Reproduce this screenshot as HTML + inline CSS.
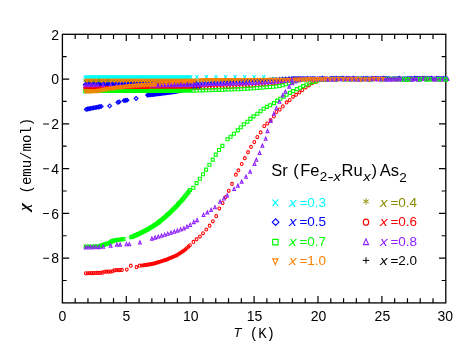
<!DOCTYPE html>
<html><head><meta charset="utf-8"><title>chart</title>
<style>html,body{margin:0;padding:0;background:#fff;}svg{display:block;will-change:transform}</style></head>
<body><svg width="471" height="364" viewBox="0 0 471 364">
<rect width="471" height="364" fill="#fff"/>
<g id="axes"><rect x="62.4" y="34.3" width="383.40000000000003" height="268.59999999999997" fill="none" stroke="#000" stroke-width="1.3"/><path d="M75.18 302.9v-4.6M75.18 34.3v4.6M87.96 302.9v-4.6M87.96 34.3v4.6M100.74 302.9v-4.6M100.74 34.3v4.6M113.52 302.9v-4.6M113.52 34.3v4.6M126.30 302.9v-6.8M126.30 34.3v6.8M139.08 302.9v-4.6M139.08 34.3v4.6M151.86 302.9v-4.6M151.86 34.3v4.6M164.64 302.9v-4.6M164.64 34.3v4.6M177.42 302.9v-4.6M177.42 34.3v4.6M190.20 302.9v-6.8M190.20 34.3v6.8M202.98 302.9v-4.6M202.98 34.3v4.6M215.76 302.9v-4.6M215.76 34.3v4.6M228.54 302.9v-4.6M228.54 34.3v4.6M241.32 302.9v-4.6M241.32 34.3v4.6M254.10 302.9v-6.8M254.10 34.3v6.8M266.88 302.9v-4.6M266.88 34.3v4.6M279.66 302.9v-4.6M279.66 34.3v4.6M292.44 302.9v-4.6M292.44 34.3v4.6M305.22 302.9v-4.6M305.22 34.3v4.6M318.00 302.9v-6.8M318.00 34.3v6.8M330.78 302.9v-4.6M330.78 34.3v4.6M343.56 302.9v-4.6M343.56 34.3v4.6M356.34 302.9v-4.6M356.34 34.3v4.6M369.12 302.9v-4.6M369.12 34.3v4.6M381.90 302.9v-6.8M381.90 34.3v6.8M394.68 302.9v-4.6M394.68 34.3v4.6M407.46 302.9v-4.6M407.46 34.3v4.6M420.24 302.9v-4.6M420.24 34.3v4.6M433.02 302.9v-4.6M433.02 34.3v4.6M62.4 280.52h4.2M445.8 280.52h-4.2M62.4 258.13h6.8M445.8 258.13h-6.8M62.4 235.75h4.2M445.8 235.75h-4.2M62.4 213.37h6.8M445.8 213.37h-6.8M62.4 190.98h4.2M445.8 190.98h-4.2M62.4 168.60h6.8M445.8 168.60h-6.8M62.4 146.22h4.2M445.8 146.22h-4.2M62.4 123.83h6.8M445.8 123.83h-6.8M62.4 101.45h4.2M445.8 101.45h-4.2M62.4 79.07h6.8M445.8 79.07h-6.8M62.4 56.68h4.2M445.8 56.68h-4.2" stroke="#000" stroke-width="1.2" fill="none"/></g>
<g id="data"><path d="M83.65 75.30L86.75 78.90M83.65 78.90L86.75 75.30M85.25 75.30L88.35 78.90M85.25 78.90L88.35 75.30M86.85 75.30L89.95 78.90M86.85 78.90L89.95 75.30M88.45 75.30L91.55 78.90M88.45 78.90L91.55 75.30M90.05 75.30L93.15 78.90M90.05 78.90L93.15 75.30M91.65 75.30L94.75 78.90M91.65 78.90L94.75 75.30M93.25 75.30L96.35 78.90M93.25 78.90L96.35 75.30M94.85 75.30L97.95 78.90M94.85 78.90L97.95 75.30M96.45 75.30L99.55 78.90M96.45 78.90L99.55 75.30M98.05 75.30L101.15 78.90M98.05 78.90L101.15 75.30M99.65 75.30L102.75 78.90M99.65 78.90L102.75 75.30M101.25 75.30L104.35 78.90M101.25 78.90L104.35 75.30M102.85 75.30L105.95 78.90M102.85 78.90L105.95 75.30M104.45 75.30L107.55 78.90M104.45 78.90L107.55 75.30M106.05 75.30L109.15 78.90M106.05 78.90L109.15 75.30M107.65 75.30L110.75 78.90M107.65 78.90L110.75 75.30M109.25 75.30L112.35 78.90M109.25 78.90L112.35 75.30M110.85 75.30L113.95 78.90M110.85 78.90L113.95 75.30M112.45 75.30L115.55 78.90M112.45 78.90L115.55 75.30M114.05 75.30L117.15 78.90M114.05 78.90L117.15 75.30M115.65 75.30L118.75 78.90M115.65 78.90L118.75 75.30M117.25 75.30L120.35 78.90M117.25 78.90L120.35 75.30M118.85 75.30L121.95 78.90M118.85 78.90L121.95 75.30M120.45 75.30L123.55 78.90M120.45 78.90L123.55 75.30M122.05 75.30L125.15 78.90M122.05 78.90L125.15 75.30M123.65 75.30L126.75 78.90M123.65 78.90L126.75 75.30M125.25 75.30L128.35 78.90M125.25 78.90L128.35 75.30M126.85 75.30L129.95 78.90M126.85 78.90L129.95 75.30M128.45 75.30L131.55 78.90M128.45 78.90L131.55 75.30M130.05 75.30L133.15 78.90M130.05 78.90L133.15 75.30M131.65 75.30L134.75 78.90M131.65 78.90L134.75 75.30M133.25 75.30L136.35 78.90M133.25 78.90L136.35 75.30M134.85 75.30L137.95 78.90M134.85 78.90L137.95 75.30M136.45 75.30L139.55 78.90M136.45 78.90L139.55 75.30M138.05 75.30L141.15 78.90M138.05 78.90L141.15 75.30M139.65 75.30L142.75 78.90M139.65 78.90L142.75 75.30M141.25 75.30L144.35 78.90M141.25 78.90L144.35 75.30M142.85 75.30L145.95 78.90M142.85 78.90L145.95 75.30M144.45 75.30L147.55 78.90M144.45 78.90L147.55 75.30M146.05 75.30L149.15 78.90M146.05 78.90L149.15 75.30M147.65 75.30L150.75 78.90M147.65 78.90L150.75 75.30M149.25 75.30L152.35 78.90M149.25 78.90L152.35 75.30M150.85 75.30L153.95 78.90M150.85 78.90L153.95 75.30M152.45 75.30L155.55 78.90M152.45 78.90L155.55 75.30M154.05 75.30L157.15 78.90M154.05 78.90L157.15 75.30M155.65 75.30L158.75 78.90M155.65 78.90L158.75 75.30M157.25 75.30L160.35 78.90M157.25 78.90L160.35 75.30M158.85 75.30L161.95 78.90M158.85 78.90L161.95 75.30M160.45 75.30L163.55 78.90M160.45 78.90L163.55 75.30M162.05 75.30L165.15 78.90M162.05 78.90L165.15 75.30M163.65 75.30L166.75 78.90M163.65 78.90L166.75 75.30M165.25 75.30L168.35 78.90M165.25 78.90L168.35 75.30M166.85 75.30L169.95 78.90M166.85 78.90L169.95 75.30M168.45 75.30L171.55 78.90M168.45 78.90L171.55 75.30M170.05 75.30L173.15 78.90M170.05 78.90L173.15 75.30M171.65 75.30L174.75 78.90M171.65 78.90L174.75 75.30M173.25 75.30L176.35 78.90M173.25 78.90L176.35 75.30M174.85 75.30L177.95 78.90M174.85 78.90L177.95 75.30M176.45 75.30L179.55 78.90M176.45 78.90L179.55 75.30M178.05 75.30L181.15 78.90M178.05 78.90L181.15 75.30M179.65 75.30L182.75 78.90M179.65 78.90L182.75 75.30M181.25 75.30L184.35 78.90M181.25 78.90L184.35 75.30M182.85 75.30L185.95 78.90M182.85 78.90L185.95 75.30M184.45 75.30L187.55 78.90M184.45 78.90L187.55 75.30M186.05 75.30L189.15 78.90M186.05 78.90L189.15 75.30M187.65 75.30L190.75 78.90M187.65 78.90L190.75 75.30M189.25 75.30L192.35 78.90M189.25 78.90L192.35 75.30M195.35 75.20L198.45 78.80M195.35 78.80L198.45 75.20M204.90 75.20L208.00 78.80M204.90 78.80L208.00 75.20M214.45 75.20L217.55 78.80M214.45 78.80L217.55 75.20M224.00 75.20L227.10 78.80M224.00 78.80L227.10 75.20M233.55 75.20L236.65 78.80M233.55 78.80L236.65 75.20M243.10 75.20L246.20 78.80M243.10 78.80L246.20 75.20M252.65 75.20L255.75 78.80M252.65 78.80L255.75 75.20M262.20 75.20L265.30 78.80M262.20 78.80L265.30 75.20M271.75 76.80L274.85 80.40M271.75 80.40L274.85 76.80M281.30 76.80L284.40 80.40M281.30 80.40L284.40 76.80M290.85 76.80L293.95 80.40M290.85 80.40L293.95 76.80M300.40 76.80L303.50 80.40M300.40 80.40L303.50 76.80M309.95 76.64L313.05 80.24M309.95 80.24L313.05 76.64M319.50 76.49L322.60 80.09M319.50 80.09L322.60 76.49M329.05 76.94L332.15 80.54M329.05 80.54L332.15 76.94M338.60 76.42L341.70 80.02M338.60 80.02L341.70 76.42M348.15 76.83L351.25 80.43M348.15 80.43L351.25 76.83M357.70 76.68L360.80 80.28M357.70 80.28L360.80 76.68M367.25 76.40L370.35 80.00M367.25 80.00L370.35 76.40M376.80 76.81L379.90 80.41M376.80 80.41L379.90 76.81M386.35 76.38L389.45 79.98M386.35 79.98L389.45 76.38M395.90 76.74L399.00 80.34M395.90 80.34L399.00 76.74M405.45 76.41L408.55 80.01M405.45 80.01L408.55 76.41M415.00 76.43L418.10 80.03M415.00 80.03L418.10 76.43M424.55 76.73L427.65 80.33M424.55 80.33L427.65 76.73M434.10 77.09L437.20 80.69M434.10 80.69L437.20 77.09M443.65 76.46L446.75 80.06M443.65 80.06L446.75 76.46" fill="none" stroke="#00ffff" stroke-width="1.08"/>
<path d="M85.20 78.70L85.20 82.50M83.55 79.65L86.85 81.55M83.55 81.55L86.85 79.65M86.30 78.70L86.30 82.50M84.65 79.65L87.95 81.55M84.65 81.55L87.95 79.65M87.40 78.70L87.40 82.50M85.75 79.65L89.05 81.55M85.75 81.55L89.05 79.65M88.50 78.70L88.50 82.50M86.85 79.65L90.15 81.55M86.85 81.55L90.15 79.65M89.60 78.70L89.60 82.50M87.95 79.65L91.25 81.55M87.95 81.55L91.25 79.65M90.70 78.70L90.70 82.50M89.05 79.65L92.35 81.55M89.05 81.55L92.35 79.65M91.80 78.70L91.80 82.50M90.15 79.65L93.45 81.55M90.15 81.55L93.45 79.65M92.90 78.70L92.90 82.50M91.25 79.65L94.55 81.55M91.25 81.55L94.55 79.65M94.00 78.70L94.00 82.50M92.35 79.65L95.65 81.55M92.35 81.55L95.65 79.65M95.10 78.70L95.10 82.50M93.45 79.65L96.75 81.55M93.45 81.55L96.75 79.65M96.20 78.70L96.20 82.50M94.55 79.65L97.85 81.55M94.55 81.55L97.85 79.65M97.30 78.70L97.30 82.50M95.65 79.65L98.95 81.55M95.65 81.55L98.95 79.65M98.40 78.70L98.40 82.50M96.75 79.65L100.05 81.55M96.75 81.55L100.05 79.65M99.50 78.70L99.50 82.50M97.85 79.65L101.15 81.55M97.85 81.55L101.15 79.65M100.60 78.70L100.60 82.50M98.95 79.65L102.25 81.55M98.95 81.55L102.25 79.65M101.70 78.70L101.70 82.50M100.05 79.65L103.35 81.55M100.05 81.55L103.35 79.65M102.80 78.70L102.80 82.50M101.15 79.65L104.45 81.55M101.15 81.55L104.45 79.65M103.90 78.70L103.90 82.50M102.25 79.65L105.55 81.55M102.25 81.55L105.55 79.65M105.00 78.70L105.00 82.50M103.35 79.65L106.65 81.55M103.35 81.55L106.65 79.65M106.10 78.70L106.10 82.50M104.45 79.65L107.75 81.55M104.45 81.55L107.75 79.65M107.20 78.70L107.20 82.50M105.55 79.65L108.85 81.55M105.55 81.55L108.85 79.65M108.30 78.70L108.30 82.50M106.65 79.65L109.95 81.55M106.65 81.55L109.95 79.65M109.40 78.70L109.40 82.50M107.75 79.65L111.05 81.55M107.75 81.55L111.05 79.65M110.50 78.70L110.50 82.50M108.85 79.65L112.15 81.55M108.85 81.55L112.15 79.65M111.60 78.70L111.60 82.50M109.95 79.65L113.25 81.55M109.95 81.55L113.25 79.65M112.70 78.70L112.70 82.50M111.05 79.65L114.35 81.55M111.05 81.55L114.35 79.65M113.80 78.70L113.80 82.50M112.15 79.65L115.45 81.55M112.15 81.55L115.45 79.65M114.90 78.70L114.90 82.50M113.25 79.65L116.55 81.55M113.25 81.55L116.55 79.65M116.00 78.70L116.00 82.50M114.35 79.65L117.65 81.55M114.35 81.55L117.65 79.65M117.10 78.70L117.10 82.50M115.45 79.65L118.75 81.55M115.45 81.55L118.75 79.65M118.20 78.70L118.20 82.50M116.55 79.65L119.85 81.55M116.55 81.55L119.85 79.65M119.30 78.70L119.30 82.50M117.65 79.65L120.95 81.55M117.65 81.55L120.95 79.65M120.40 78.70L120.40 82.50M118.75 79.65L122.05 81.55M118.75 81.55L122.05 79.65M121.50 78.70L121.50 82.50M119.85 79.65L123.15 81.55M119.85 81.55L123.15 79.65M122.60 78.70L122.60 82.50M120.95 79.65L124.25 81.55M120.95 81.55L124.25 79.65M123.70 78.70L123.70 82.50M122.05 79.65L125.35 81.55M122.05 81.55L125.35 79.65M124.80 78.70L124.80 82.50M123.15 79.65L126.45 81.55M123.15 81.55L126.45 79.65M125.90 78.70L125.90 82.50M124.25 79.65L127.55 81.55M124.25 81.55L127.55 79.65M127.00 78.70L127.00 82.50M125.35 79.65L128.65 81.55M125.35 81.55L128.65 79.65M128.10 78.70L128.10 82.50M126.45 79.65L129.75 81.55M126.45 81.55L129.75 79.65M129.20 78.70L129.20 82.50M127.55 79.65L130.85 81.55M127.55 81.55L130.85 79.65M130.30 78.70L130.30 82.50M128.65 79.65L131.95 81.55M128.65 81.55L131.95 79.65M131.40 78.70L131.40 82.50M129.75 79.65L133.05 81.55M129.75 81.55L133.05 79.65M132.50 78.70L132.50 82.50M130.85 79.65L134.15 81.55M130.85 81.55L134.15 79.65M133.60 78.70L133.60 82.50M131.95 79.65L135.25 81.55M131.95 81.55L135.25 79.65M134.70 78.70L134.70 82.50M133.05 79.65L136.35 81.55M133.05 81.55L136.35 79.65M135.80 78.70L135.80 82.50M134.15 79.65L137.45 81.55M134.15 81.55L137.45 79.65M136.90 78.70L136.90 82.50M135.25 79.65L138.55 81.55M135.25 81.55L138.55 79.65M138.00 78.70L138.00 82.50M136.35 79.65L139.65 81.55M136.35 81.55L139.65 79.65M139.10 78.70L139.10 82.50M137.45 79.65L140.75 81.55M137.45 81.55L140.75 79.65M140.20 78.70L140.20 82.50M138.55 79.65L141.85 81.55M138.55 81.55L141.85 79.65M141.30 78.70L141.30 82.50M139.65 79.65L142.95 81.55M139.65 81.55L142.95 79.65M142.40 78.70L142.40 82.50M140.75 79.65L144.05 81.55M140.75 81.55L144.05 79.65M143.50 78.70L143.50 82.50M141.85 79.65L145.15 81.55M141.85 81.55L145.15 79.65M144.60 78.70L144.60 82.50M142.95 79.65L146.25 81.55M142.95 81.55L146.25 79.65M145.70 78.70L145.70 82.50M144.05 79.65L147.35 81.55M144.05 81.55L147.35 79.65M146.80 78.70L146.80 82.50M145.15 79.65L148.45 81.55M145.15 81.55L148.45 79.65M147.90 78.70L147.90 82.50M146.25 79.65L149.55 81.55M146.25 81.55L149.55 79.65M149.00 78.70L149.00 82.50M147.35 79.65L150.65 81.55M147.35 81.55L150.65 79.65M150.10 78.70L150.10 82.50M148.45 79.65L151.75 81.55M148.45 81.55L151.75 79.65M151.20 78.70L151.20 82.50M149.55 79.65L152.85 81.55M149.55 81.55L152.85 79.65M152.30 78.70L152.30 82.50M150.65 79.65L153.95 81.55M150.65 81.55L153.95 79.65M153.40 78.70L153.40 82.50M151.75 79.65L155.05 81.55M151.75 81.55L155.05 79.65M154.50 78.70L154.50 82.50M152.85 79.65L156.15 81.55M152.85 81.55L156.15 79.65M155.60 78.70L155.60 82.50M153.95 79.65L157.25 81.55M153.95 81.55L157.25 79.65M156.70 78.70L156.70 82.50M155.05 79.65L158.35 81.55M155.05 81.55L158.35 79.65M157.80 78.70L157.80 82.50M156.15 79.65L159.45 81.55M156.15 81.55L159.45 79.65M158.90 78.70L158.90 82.50M157.25 79.65L160.55 81.55M157.25 81.55L160.55 79.65M160.00 78.70L160.00 82.50M158.35 79.65L161.65 81.55M158.35 81.55L161.65 79.65M161.10 78.70L161.10 82.50M159.45 79.65L162.75 81.55M159.45 81.55L162.75 79.65M162.20 78.70L162.20 82.50M160.55 79.65L163.85 81.55M160.55 81.55L163.85 79.65M163.30 78.70L163.30 82.50M161.65 79.65L164.95 81.55M161.65 81.55L164.95 79.65M164.40 78.70L164.40 82.50M162.75 79.65L166.05 81.55M162.75 81.55L166.05 79.65M165.50 78.70L165.50 82.50M163.85 79.65L167.15 81.55M163.85 81.55L167.15 79.65M166.60 78.70L166.60 82.50M164.95 79.65L168.25 81.55M164.95 81.55L168.25 79.65M167.70 78.70L167.70 82.50M166.05 79.65L169.35 81.55M166.05 81.55L169.35 79.65M168.80 78.70L168.80 82.50M167.15 79.65L170.45 81.55M167.15 81.55L170.45 79.65M169.90 78.70L169.90 82.50M168.25 79.65L171.55 81.55M168.25 81.55L171.55 79.65M171.00 78.70L171.00 82.50M169.35 79.65L172.65 81.55M169.35 81.55L172.65 79.65M172.10 78.70L172.10 82.50M170.45 79.65L173.75 81.55M170.45 81.55L173.75 79.65M173.20 78.70L173.20 82.50M171.55 79.65L174.85 81.55M171.55 81.55L174.85 79.65M174.30 78.70L174.30 82.50M172.65 79.65L175.95 81.55M172.65 81.55L175.95 79.65M175.40 78.70L175.40 82.50M173.75 79.65L177.05 81.55M173.75 81.55L177.05 79.65M176.50 78.70L176.50 82.50M174.85 79.65L178.15 81.55M174.85 81.55L178.15 79.65M177.60 78.70L177.60 82.50M175.95 79.65L179.25 81.55M175.95 81.55L179.25 79.65M178.70 78.70L178.70 82.50M177.05 79.65L180.35 81.55M177.05 81.55L180.35 79.65M179.80 78.70L179.80 82.50M178.15 79.65L181.45 81.55M178.15 81.55L181.45 79.65M180.90 78.70L180.90 82.50M179.25 79.65L182.55 81.55M179.25 81.55L182.55 79.65M182.00 78.70L182.00 82.50M180.35 79.65L183.65 81.55M180.35 81.55L183.65 79.65M183.10 78.70L183.10 82.50M181.45 79.65L184.75 81.55M181.45 81.55L184.75 79.65M184.20 78.70L184.20 82.50M182.55 79.65L185.85 81.55M182.55 81.55L185.85 79.65M185.30 78.70L185.30 82.50M183.65 79.65L186.95 81.55M183.65 81.55L186.95 79.65M186.40 78.70L186.40 82.50M184.75 79.65L188.05 81.55M184.75 81.55L188.05 79.65M187.50 78.70L187.50 82.50M185.85 79.65L189.15 81.55M185.85 81.55L189.15 79.65M188.60 78.70L188.60 82.50M186.95 79.65L190.25 81.55M186.95 81.55L190.25 79.65M189.70 78.70L189.70 82.50M188.05 79.65L191.35 81.55M188.05 81.55L191.35 79.65M190.80 78.70L190.80 82.50M189.15 79.65L192.45 81.55M189.15 81.55L192.45 79.65M191.90 78.70L191.90 82.50M190.25 79.65L193.55 81.55M190.25 81.55L193.55 79.65M193.00 78.70L193.00 82.50M191.35 79.65L194.65 81.55M191.35 81.55L194.65 79.65M194.10 78.70L194.10 82.50M192.45 79.65L195.75 81.55M192.45 81.55L195.75 79.65M195.20 78.70L195.20 82.50M193.55 79.65L196.85 81.55M193.55 81.55L196.85 79.65M196.30 78.70L196.30 82.50M194.65 79.65L197.95 81.55M194.65 81.55L197.95 79.65M200.00 78.50L200.00 82.30M198.35 79.45L201.65 81.35M198.35 81.35L201.65 79.45M203.19 78.46L203.19 82.26M201.54 79.41L204.84 81.31M201.54 81.31L204.84 79.41M206.38 78.42L206.38 82.22M204.73 79.37L208.03 81.27M204.73 81.27L208.03 79.37M209.57 78.39L209.57 82.19M207.92 79.34L211.22 81.24M207.92 81.24L211.22 79.34M212.76 78.35L212.76 82.15M211.11 79.30L214.41 81.20M211.11 81.20L214.41 79.30M215.95 78.31L215.95 82.11M214.30 79.26L217.60 81.16M214.30 81.16L217.60 79.26M219.14 78.27L219.14 82.07M217.49 79.22L220.79 81.12M217.49 81.12L220.79 79.22M222.33 78.23L222.33 82.03M220.68 79.18L223.98 81.08M220.68 81.08L223.98 79.18M225.52 78.19L225.52 81.99M223.87 79.14L227.17 81.04M223.87 81.04L227.17 79.14M228.71 78.16L228.71 81.96M227.06 79.11L230.36 81.01M227.06 81.01L230.36 79.11M231.90 78.12L231.90 81.92M230.25 79.07L233.55 80.97M230.25 80.97L233.55 79.07M235.09 78.08L235.09 81.88M233.44 79.03L236.74 80.93M233.44 80.93L236.74 79.03M238.28 78.04L238.28 81.84M236.63 78.99L239.93 80.89M236.63 80.89L239.93 78.99M241.47 78.00L241.47 81.80M239.82 78.95L243.12 80.85M239.82 80.85L243.12 78.95M244.66 77.96L244.66 81.76M243.01 78.91L246.31 80.81M243.01 80.81L246.31 78.91M247.85 77.93L247.85 81.73M246.20 78.88L249.50 80.78M246.20 80.78L249.50 78.88M251.04 77.89L251.04 81.69M249.39 78.84L252.69 80.74M249.39 80.74L252.69 78.84M254.23 77.85L254.23 81.65M252.58 78.80L255.88 80.70M252.58 80.70L255.88 78.80M257.42 77.81L257.42 81.61M255.77 78.76L259.07 80.66M255.77 80.66L259.07 78.76M260.61 77.77L260.61 81.57M258.96 78.72L262.26 80.62M258.96 80.62L262.26 78.72M263.80 77.73L263.80 81.53M262.15 78.68L265.45 80.58M262.15 80.58L265.45 78.68M266.99 77.70L266.99 81.50M265.34 78.65L268.64 80.55M265.34 80.55L268.64 78.65M270.18 77.66L270.18 81.46M268.53 78.61L271.83 80.51M268.53 80.51L271.83 78.61M273.37 77.62L273.37 81.42M271.72 78.57L275.02 80.47M271.72 80.47L275.02 78.57M276.56 77.58L276.56 81.38M274.91 78.53L278.21 80.43M274.91 80.43L278.21 78.53M279.75 77.54L279.75 81.34M278.10 78.49L281.40 80.39M278.10 80.39L281.40 78.49M282.94 77.50L282.94 81.30M281.29 78.45L284.59 80.35M281.29 80.35L284.59 78.45M286.13 77.47L286.13 81.27M284.48 78.42L287.78 80.32M284.48 80.32L287.78 78.42M289.32 77.43L289.32 81.23M287.67 78.38L290.97 80.28M287.67 80.28L290.97 78.38M292.51 77.39L292.51 81.19M290.86 78.34L294.16 80.24M290.86 80.24L294.16 78.34M295.70 77.35L295.70 81.15M294.05 78.30L297.35 80.20M294.05 80.20L297.35 78.30M298.89 77.31L298.89 81.11M297.24 78.26L300.54 80.16M297.24 80.16L300.54 78.26M302.08 77.30L302.08 81.10M300.43 78.25L303.73 80.15M300.43 80.15L303.73 78.25M305.27 77.04L305.27 80.84M303.62 77.99L306.92 79.89M303.62 79.89L306.92 77.99M308.46 77.40L308.46 81.20M306.81 78.35L310.11 80.25M306.81 80.25L310.11 78.35M311.65 77.69L311.65 81.49M310.00 78.64L313.30 80.54M310.00 80.54L313.30 78.64M314.84 77.35L314.84 81.15M313.19 78.30L316.49 80.20M313.19 80.20L316.49 78.30M318.03 77.18L318.03 80.98M316.38 78.13L319.68 80.03M316.38 80.03L319.68 78.13M321.22 77.70L321.22 81.50M319.57 78.65L322.87 80.55M319.57 80.55L322.87 78.65M324.41 76.86L324.41 80.66M322.76 77.81L326.06 79.71M322.76 79.71L326.06 77.81M327.60 77.58L327.60 81.38M325.95 78.53L329.25 80.43M325.95 80.43L329.25 78.53M330.79 77.07L330.79 80.87M329.14 78.02L332.44 79.92M329.14 79.92L332.44 78.02M333.98 76.93L333.98 80.73M332.33 77.88L335.63 79.78M332.33 79.78L335.63 77.88M337.17 76.91L337.17 80.71M335.52 77.86L338.82 79.76M335.52 79.76L338.82 77.86M340.36 77.07L340.36 80.87M338.71 78.02L342.01 79.92M338.71 79.92L342.01 78.02M343.55 77.52L343.55 81.32M341.90 78.47L345.20 80.37M341.90 80.37L345.20 78.47M346.74 76.95L346.74 80.75M345.09 77.90L348.39 79.80M345.09 79.80L348.39 77.90M349.93 77.31L349.93 81.11M348.28 78.26L351.58 80.16M348.28 80.16L351.58 78.26M353.12 77.35L353.12 81.15M351.47 78.30L354.77 80.20M351.47 80.20L354.77 78.30M356.31 77.11L356.31 80.91M354.66 78.06L357.96 79.96M354.66 79.96L357.96 78.06M359.50 77.26L359.50 81.06M357.85 78.21L361.15 80.11M357.85 80.11L361.15 78.21M362.69 76.82L362.69 80.62M361.04 77.77L364.34 79.67M361.04 79.67L364.34 77.77M365.88 76.81L365.88 80.61M364.23 77.76L367.53 79.66M364.23 79.66L367.53 77.76M369.07 76.94L369.07 80.74M367.42 77.89L370.72 79.79M367.42 79.79L370.72 77.89M372.26 77.36L372.26 81.16M370.61 78.31L373.91 80.21M370.61 80.21L373.91 78.31M375.45 77.13L375.45 80.93M373.80 78.08L377.10 79.98M373.80 79.98L377.10 78.08M378.64 77.03L378.64 80.83M376.99 77.98L380.29 79.88M376.99 79.88L380.29 77.98M381.83 77.26L381.83 81.06M380.18 78.21L383.48 80.11M380.18 80.11L383.48 78.21M385.02 77.14L385.02 80.94M383.37 78.09L386.67 79.99M383.37 79.99L386.67 78.09M388.21 77.00L388.21 80.80M386.56 77.95L389.86 79.85M386.56 79.85L389.86 77.95M391.40 77.44L391.40 81.24M389.75 78.39L393.05 80.29M389.75 80.29L393.05 78.39M394.59 77.35L394.59 81.15M392.94 78.30L396.24 80.20M392.94 80.20L396.24 78.30M397.78 76.94L397.78 80.74M396.13 77.89L399.43 79.79M396.13 79.79L399.43 77.89M400.97 77.23L400.97 81.03M399.32 78.18L402.62 80.08M399.32 80.08L402.62 78.18M404.16 77.18L404.16 80.98M402.51 78.13L405.81 80.03M402.51 80.03L405.81 78.13M407.35 77.49L407.35 81.29M405.70 78.44L409.00 80.34M405.70 80.34L409.00 78.44M410.54 77.36L410.54 81.16M408.89 78.31L412.19 80.21M408.89 80.21L412.19 78.31M413.73 76.95L413.73 80.75M412.08 77.90L415.38 79.80M412.08 79.80L415.38 77.90M416.92 77.57L416.92 81.37M415.27 78.52L418.57 80.42M415.27 80.42L418.57 78.52M420.11 76.79L420.11 80.59M418.46 77.74L421.76 79.64M418.46 79.64L421.76 77.74M423.30 77.06L423.30 80.86M421.65 78.01L424.95 79.91M421.65 79.91L424.95 78.01M426.49 77.36L426.49 81.16M424.84 78.31L428.14 80.21M424.84 80.21L428.14 78.31M429.68 76.81L429.68 80.61M428.03 77.76L431.33 79.66M428.03 79.66L431.33 77.76M432.87 77.11L432.87 80.91M431.22 78.06L434.52 79.96M431.22 79.96L434.52 78.06M436.06 76.70L436.06 80.50M434.41 77.65L437.71 79.55M434.41 79.55L437.71 77.65M439.25 77.26L439.25 81.06M437.60 78.21L440.90 80.11M437.60 80.11L440.90 78.21M442.44 77.34L442.44 81.14M440.79 78.29L444.09 80.19M440.79 80.19L444.09 78.29M445.63 77.17L445.63 80.97M443.98 78.12L447.28 80.02M443.98 80.02L447.28 78.12" fill="none" stroke="#8b8b00" stroke-width="1.08"/>
<path d="M83.30 84.60L85.20 82.70L87.10 84.60L85.20 86.50ZM84.20 84.60L86.10 82.70L88.00 84.60L86.10 86.50ZM85.10 84.60L87.00 82.70L88.90 84.60L87.00 86.50ZM86.00 84.60L87.90 82.70L89.80 84.60L87.90 86.50ZM86.90 84.59L88.80 82.69L90.70 84.59L88.80 86.49ZM87.80 84.59L89.70 82.69L91.60 84.59L89.70 86.49ZM88.70 84.59L90.60 82.69L92.50 84.59L90.60 86.49ZM89.60 84.59L91.50 82.69L93.40 84.59L91.50 86.49ZM90.50 84.59L92.40 82.69L94.30 84.59L92.40 86.49ZM91.40 84.59L93.30 82.69L95.20 84.59L93.30 86.49ZM92.30 84.59L94.20 82.69L96.10 84.59L94.20 86.49ZM93.20 84.58L95.10 82.68L97.00 84.58L95.10 86.48ZM94.10 84.58L96.00 82.68L97.90 84.58L96.00 86.48ZM95.00 84.58L96.90 82.68L98.80 84.58L96.90 86.48ZM95.90 84.58L97.80 82.68L99.70 84.58L97.80 86.48ZM96.80 84.58L98.70 82.68L100.60 84.58L98.70 86.48ZM97.70 84.58L99.60 82.68L101.50 84.58L99.60 86.48ZM98.60 84.58L100.50 82.68L102.40 84.58L100.50 86.48ZM99.50 84.57L101.40 82.67L103.30 84.57L101.40 86.47ZM100.40 84.57L102.30 82.67L104.20 84.57L102.30 86.47ZM101.30 84.57L103.20 82.67L105.10 84.57L103.20 86.47ZM102.20 84.57L104.10 82.67L106.00 84.57L104.10 86.47ZM103.10 84.57L105.00 82.67L106.90 84.57L105.00 86.47ZM104.00 84.57L105.90 82.67L107.80 84.57L105.90 86.47ZM104.90 84.57L106.80 82.67L108.70 84.57L106.80 86.47ZM105.80 84.57L107.70 82.67L109.60 84.57L107.70 86.47ZM106.70 84.56L108.60 82.66L110.50 84.56L108.60 86.46ZM107.60 84.56L109.50 82.66L111.40 84.56L109.50 86.46ZM108.50 84.56L110.40 82.66L112.30 84.56L110.40 86.46ZM109.40 84.56L111.30 82.66L113.20 84.56L111.30 86.46ZM110.30 84.56L112.20 82.66L114.10 84.56L112.20 86.46ZM111.20 84.56L113.10 82.66L115.00 84.56L113.10 86.46ZM112.10 84.56L114.00 82.66L115.90 84.56L114.00 86.46ZM113.00 84.55L114.90 82.65L116.80 84.55L114.90 86.45ZM113.90 84.55L115.80 82.65L117.70 84.55L115.80 86.45ZM114.80 84.55L116.70 82.65L118.60 84.55L116.70 86.45ZM115.70 84.55L117.60 82.65L119.50 84.55L117.60 86.45ZM116.60 84.55L118.50 82.65L120.40 84.55L118.50 86.45ZM117.50 84.55L119.40 82.65L121.30 84.55L119.40 86.45ZM118.40 84.55L120.30 82.65L122.20 84.55L120.30 86.45ZM119.30 84.54L121.20 82.64L123.10 84.54L121.20 86.44ZM120.20 84.54L122.10 82.64L124.00 84.54L122.10 86.44ZM121.10 84.54L123.00 82.64L124.90 84.54L123.00 86.44ZM122.00 84.54L123.90 82.64L125.80 84.54L123.90 86.44ZM122.90 84.54L124.80 82.64L126.70 84.54L124.80 86.44ZM123.80 84.54L125.70 82.64L127.60 84.54L125.70 86.44ZM124.70 84.54L126.60 82.64L128.50 84.54L126.60 86.44ZM125.60 84.53L127.50 82.63L129.40 84.53L127.50 86.43ZM126.50 84.53L128.40 82.63L130.30 84.53L128.40 86.43ZM127.40 84.53L129.30 82.63L131.20 84.53L129.30 86.43ZM128.30 84.53L130.20 82.63L132.10 84.53L130.20 86.43ZM129.20 84.53L131.10 82.63L133.00 84.53L131.10 86.43ZM130.10 84.53L132.00 82.63L133.90 84.53L132.00 86.43ZM131.00 84.53L132.90 82.63L134.80 84.53L132.90 86.43ZM131.90 84.52L133.80 82.62L135.70 84.52L133.80 86.42ZM132.80 84.52L134.70 82.62L136.60 84.52L134.70 86.42ZM133.70 84.52L135.60 82.62L137.50 84.52L135.60 86.42ZM134.60 84.52L136.50 82.62L138.40 84.52L136.50 86.42ZM135.50 84.52L137.40 82.62L139.30 84.52L137.40 86.42ZM136.40 84.52L138.30 82.62L140.20 84.52L138.30 86.42ZM137.30 84.52L139.20 82.62L141.10 84.52L139.20 86.42ZM138.20 84.52L140.10 82.62L142.00 84.52L140.10 86.42ZM139.10 84.51L141.00 82.61L142.90 84.51L141.00 86.41ZM140.00 84.51L141.90 82.61L143.80 84.51L141.90 86.41ZM140.90 84.51L142.80 82.61L144.70 84.51L142.80 86.41ZM141.80 84.51L143.70 82.61L145.60 84.51L143.70 86.41ZM142.70 84.51L144.60 82.61L146.50 84.51L144.60 86.41ZM143.60 84.51L145.50 82.61L147.40 84.51L145.50 86.41ZM144.50 84.51L146.40 82.61L148.30 84.51L146.40 86.41ZM145.40 84.50L147.30 82.60L149.20 84.50L147.30 86.40ZM146.30 84.50L148.20 82.60L150.10 84.50L148.20 86.40ZM147.20 84.50L149.10 82.60L151.00 84.50L149.10 86.40ZM148.10 84.50L150.00 82.60L151.90 84.50L150.00 86.40ZM149.00 84.49L150.90 82.59L152.80 84.49L150.90 86.39ZM149.90 84.48L151.80 82.58L153.70 84.48L151.80 86.38ZM150.80 84.47L152.70 82.57L154.60 84.47L152.70 86.37ZM151.70 84.46L153.60 82.56L155.50 84.46L153.60 86.36ZM152.60 84.45L154.50 82.55L156.40 84.45L154.50 86.36ZM153.50 84.45L155.40 82.55L157.30 84.45L155.40 86.35ZM154.40 84.44L156.30 82.54L158.20 84.44L156.30 86.34ZM155.30 84.43L157.20 82.53L159.10 84.43L157.20 86.33ZM156.20 84.42L158.10 82.52L160.00 84.42L158.10 86.32ZM157.10 84.41L159.00 82.51L160.90 84.41L159.00 86.31ZM158.00 84.40L159.90 82.50L161.80 84.40L159.90 86.30ZM158.90 84.39L160.80 82.49L162.70 84.39L160.80 86.29ZM159.80 84.38L161.70 82.48L163.60 84.38L161.70 86.28ZM160.70 84.37L162.60 82.47L164.50 84.37L162.60 86.27ZM161.60 84.36L163.50 82.46L165.40 84.36L163.50 86.27ZM162.50 84.36L164.40 82.46L166.30 84.36L164.40 86.26ZM163.40 84.35L165.30 82.45L167.20 84.35L165.30 86.25ZM164.30 84.34L166.20 82.44L168.10 84.34L166.20 86.24ZM165.20 84.33L167.10 82.43L169.00 84.33L167.10 86.23ZM166.10 84.32L168.00 82.42L169.90 84.32L168.00 86.22ZM167.00 84.31L168.90 82.41L170.80 84.31L168.90 86.21ZM167.90 84.30L169.80 82.40L171.70 84.30L169.80 86.20ZM168.80 84.29L170.70 82.39L172.60 84.29L170.70 86.19ZM169.70 84.28L171.60 82.38L173.50 84.28L171.60 86.18ZM170.60 84.27L172.50 82.37L174.40 84.27L172.50 86.17ZM171.50 84.27L173.40 82.37L175.30 84.27L173.40 86.17ZM172.40 84.26L174.30 82.36L176.20 84.26L174.30 86.16ZM173.30 84.25L175.20 82.35L177.10 84.25L175.20 86.15ZM174.20 84.24L176.10 82.34L178.00 84.24L176.10 86.14ZM175.10 84.23L177.00 82.33L178.90 84.23L177.00 86.13ZM176.00 84.22L177.90 82.32L179.80 84.22L177.90 86.12ZM176.90 84.21L178.80 82.31L180.70 84.21L178.80 86.11ZM177.80 84.20L179.70 82.30L181.60 84.20L179.70 86.10ZM178.70 84.19L180.60 82.29L182.50 84.19L180.60 86.09ZM179.60 84.18L181.50 82.28L183.40 84.18L181.50 86.08ZM180.50 84.18L182.40 82.28L184.30 84.18L182.40 86.08ZM181.40 84.17L183.30 82.27L185.20 84.17L183.30 86.07ZM182.30 84.16L184.20 82.26L186.10 84.16L184.20 86.06ZM183.20 84.15L185.10 82.25L187.00 84.15L185.10 86.05ZM184.10 84.14L186.00 82.24L187.90 84.14L186.00 86.04ZM185.00 84.13L186.90 82.23L188.80 84.13L186.90 86.03ZM185.90 84.12L187.80 82.22L189.70 84.12L187.80 86.02ZM186.80 84.11L188.70 82.21L190.60 84.11L188.70 86.01ZM187.70 84.10L189.60 82.20L191.50 84.10L189.60 86.00ZM191.40 84.00L193.30 82.10L195.20 84.00L193.30 85.90ZM194.59 83.90L196.49 82.00L198.39 83.90L196.49 85.80ZM197.78 83.81L199.68 81.91L201.58 83.81L199.68 85.71ZM200.97 83.65L202.87 81.75L204.77 83.65L202.87 85.55ZM204.16 83.48L206.06 81.58L207.96 83.48L206.06 85.38ZM207.35 83.31L209.25 81.41L211.15 83.31L209.25 85.21ZM210.54 83.14L212.44 81.24L214.34 83.14L212.44 85.04ZM213.73 82.97L215.63 81.07L217.53 82.97L215.63 84.87ZM216.92 82.85L218.82 80.95L220.72 82.85L218.82 84.75ZM220.11 82.72L222.01 80.82L223.91 82.72L222.01 84.62ZM223.30 82.59L225.20 80.69L227.10 82.59L225.20 84.49ZM226.49 82.46L228.39 80.56L230.29 82.46L228.39 84.36ZM229.68 82.34L231.58 80.44L233.48 82.34L231.58 84.24ZM232.87 82.21L234.77 80.31L236.67 82.21L234.77 84.11ZM236.06 82.08L237.96 80.18L239.86 82.08L237.96 83.98ZM239.25 81.93L241.15 80.03L243.05 81.93L241.15 83.83ZM242.44 81.73L244.34 79.83L246.24 81.73L244.34 83.63ZM245.63 81.52L247.53 79.62L249.43 81.52L247.53 83.42ZM248.82 81.32L250.72 79.42L252.62 81.32L250.72 83.22ZM252.01 81.12L253.91 79.22L255.81 81.12L253.91 83.02ZM255.20 80.92L257.10 79.02L259.00 80.92L257.10 82.82ZM258.39 80.72L260.29 78.82L262.19 80.72L260.29 82.62ZM261.58 80.52L263.48 78.62L265.38 80.52L263.48 82.42ZM264.77 80.32L266.67 78.42L268.57 80.32L266.67 82.22ZM267.96 80.11L269.86 78.21L271.76 80.11L269.86 82.01ZM271.15 79.91L273.05 78.01L274.95 79.91L273.05 81.81ZM274.34 79.71L276.24 77.81L278.14 79.71L276.24 81.61ZM277.53 79.48L279.43 77.58L281.33 79.48L279.43 81.38ZM280.72 79.22L282.62 77.31L284.52 79.22L282.62 81.12ZM283.91 78.95L285.81 77.05L287.71 78.95L285.81 80.85ZM287.10 78.68L289.00 76.78L290.90 78.68L289.00 80.58ZM290.10 78.60L292.00 76.70L293.90 78.60L292.00 80.50ZM291.80 78.60L293.70 76.70L295.60 78.60L293.70 80.50ZM293.50 78.60L295.40 76.70L297.30 78.60L295.40 80.50ZM295.20 78.60L297.10 76.70L299.00 78.60L297.10 80.50ZM296.90 78.60L298.80 76.70L300.70 78.60L298.80 80.50ZM298.60 78.61L300.50 76.71L302.40 78.61L300.50 80.51ZM300.30 78.61L302.20 76.71L304.10 78.61L302.20 80.51ZM302.00 78.61L303.90 76.71L305.80 78.61L303.90 80.51ZM303.70 78.95L305.60 77.05L307.50 78.95L305.60 80.85ZM305.40 78.44L307.30 76.54L309.20 78.44L307.30 80.34ZM307.10 78.79L309.00 76.89L310.90 78.79L309.00 80.69ZM308.80 78.70L310.70 76.80L312.60 78.70L310.70 80.60ZM310.50 78.69L312.40 76.79L314.30 78.69L312.40 80.59ZM312.20 78.57L314.10 76.67L316.00 78.57L314.10 80.47ZM313.90 78.92L315.80 77.02L317.70 78.92L315.80 80.82ZM315.60 79.02L317.50 77.12L319.40 79.02L317.50 80.92ZM317.30 78.59L319.20 76.69L321.10 78.59L319.20 80.49ZM319.00 78.77L320.90 76.87L322.80 78.77L320.90 80.67ZM320.70 78.22L322.60 76.32L324.50 78.22L322.60 80.12ZM322.40 78.80L324.30 76.90L326.20 78.80L324.30 80.70ZM324.10 78.75L326.00 76.85L327.90 78.75L326.00 80.65ZM325.80 79.07L327.70 77.17L329.60 79.07L327.70 80.97ZM327.50 78.91L329.40 77.01L331.30 78.91L329.40 80.81ZM329.20 78.43L331.10 76.53L333.00 78.43L331.10 80.33ZM330.90 78.52L332.80 76.62L334.70 78.52L332.80 80.42ZM332.60 78.78L334.50 76.88L336.40 78.78L334.50 80.68ZM334.30 78.20L336.20 76.30L338.10 78.20L336.20 80.10ZM336.00 78.60L337.90 76.70L339.80 78.60L337.90 80.50ZM337.70 78.33L339.60 76.43L341.50 78.33L339.60 80.23ZM339.40 78.29L341.30 76.39L343.20 78.29L341.30 80.19ZM341.10 78.24L343.00 76.34L344.90 78.24L343.00 80.14ZM342.80 78.88L344.70 76.98L346.60 78.88L344.70 80.78ZM344.50 78.30L346.40 76.40L348.30 78.30L346.40 80.20ZM346.20 78.41L348.10 76.51L350.00 78.41L348.10 80.31ZM347.90 78.54L349.80 76.64L351.70 78.54L349.80 80.44ZM349.60 78.97L351.50 77.07L353.40 78.97L351.50 80.87ZM351.30 78.26L353.20 76.36L355.10 78.26L353.20 80.16ZM353.00 78.59L354.90 76.69L356.80 78.59L354.90 80.49ZM354.70 78.69L356.60 76.79L358.50 78.69L356.60 80.59ZM356.40 78.99L358.30 77.09L360.20 78.99L358.30 80.89ZM358.10 78.93L360.00 77.03L361.90 78.93L360.00 80.83ZM359.80 78.97L361.70 77.07L363.60 78.97L361.70 80.87ZM361.50 78.45L363.40 76.55L365.30 78.45L363.40 80.35ZM363.20 78.57L365.10 76.67L367.00 78.57L365.10 80.47ZM364.90 78.52L366.80 76.62L368.70 78.52L366.80 80.42ZM366.60 78.99L368.50 77.09L370.40 78.99L368.50 80.89ZM368.30 79.06L370.20 77.16L372.10 79.06L370.20 80.96ZM370.00 78.34L371.90 76.44L373.80 78.34L371.90 80.24ZM371.70 78.36L373.60 76.46L375.50 78.36L373.60 80.26ZM373.40 78.41L375.30 76.51L377.20 78.41L375.30 80.31ZM375.10 78.41L377.00 76.51L378.90 78.41L377.00 80.31ZM376.80 78.64L378.70 76.74L380.60 78.64L378.70 80.54ZM378.50 78.74L380.40 76.84L382.30 78.74L380.40 80.64ZM380.20 78.44L382.10 76.54L384.00 78.44L382.10 80.34ZM381.90 78.21L383.80 76.31L385.70 78.21L383.80 80.11ZM383.60 78.59L385.50 76.69L387.40 78.59L385.50 80.49ZM385.30 78.54L387.20 76.64L389.10 78.54L387.20 80.44ZM387.00 78.72L388.90 76.82L390.80 78.72L388.90 80.62ZM388.70 79.07L390.60 77.17L392.50 79.07L390.60 80.97ZM390.40 78.84L392.30 76.94L394.20 78.84L392.30 80.74ZM392.10 78.68L394.00 76.78L395.90 78.68L394.00 80.58ZM393.80 78.77L395.70 76.87L397.60 78.77L395.70 80.67ZM395.50 78.83L397.40 76.93L399.30 78.83L397.40 80.73ZM397.20 78.27L399.10 76.37L401.00 78.27L399.10 80.17ZM398.90 79.03L400.80 77.13L402.70 79.03L400.80 80.93ZM400.60 78.92L402.50 77.02L404.40 78.92L402.50 80.82ZM402.30 79.01L404.20 77.11L406.10 79.01L404.20 80.91ZM404.00 78.94L405.90 77.04L407.80 78.94L405.90 80.84ZM405.70 78.58L407.60 76.68L409.50 78.58L407.60 80.48ZM407.40 78.58L409.30 76.68L411.20 78.58L409.30 80.48ZM409.10 78.32L411.00 76.42L412.90 78.32L411.00 80.22ZM410.80 78.80L412.70 76.90L414.60 78.80L412.70 80.70ZM412.50 78.28L414.40 76.38L416.30 78.28L414.40 80.18ZM414.20 78.29L416.10 76.39L418.00 78.29L416.10 80.19ZM415.90 78.42L417.80 76.52L419.70 78.42L417.80 80.32ZM417.60 78.38L419.50 76.48L421.40 78.38L419.50 80.28ZM419.30 78.54L421.20 76.64L423.10 78.54L421.20 80.44ZM421.00 78.28L422.90 76.38L424.80 78.28L422.90 80.18ZM422.70 78.24L424.60 76.34L426.50 78.24L424.60 80.14ZM424.40 78.37L426.30 76.47L428.20 78.37L426.30 80.27ZM426.10 78.33L428.00 76.43L429.90 78.33L428.00 80.23ZM427.80 78.57L429.70 76.67L431.60 78.57L429.70 80.47ZM429.50 78.26L431.40 76.36L433.30 78.26L431.40 80.16ZM431.20 79.03L433.10 77.13L435.00 79.03L433.10 80.93ZM432.90 78.79L434.80 76.89L436.70 78.79L434.80 80.69ZM434.60 78.38L436.50 76.48L438.40 78.38L436.50 80.28ZM436.30 78.47L438.20 76.57L440.10 78.47L438.20 80.37ZM438.00 78.56L439.90 76.66L441.80 78.56L439.90 80.46ZM439.70 78.57L441.60 76.67L443.50 78.57L441.60 80.47ZM441.40 78.36L443.30 76.46L445.20 78.36L443.30 80.26ZM443.10 79.01L445.00 77.11L446.90 79.01L445.00 80.91ZM444.80 79.14L446.70 77.24L448.60 79.14L446.70 81.04ZM84.30 109.30L86.20 107.40L88.10 109.30L86.20 111.20ZM85.80 109.01L87.70 107.11L89.60 109.01L87.70 110.91ZM87.30 108.73L89.20 106.83L91.10 108.73L89.20 110.63ZM88.80 108.44L90.70 106.54L92.60 108.44L90.70 110.34ZM90.30 108.16L92.20 106.26L94.10 108.16L92.20 110.06ZM91.80 107.87L93.70 105.97L95.60 107.87L93.70 109.77ZM93.30 107.59L95.20 105.69L97.10 107.59L95.20 109.49ZM94.80 107.30L96.70 105.40L98.60 107.30L96.70 109.20ZM96.30 107.02L98.20 105.12L100.10 107.02L98.20 108.92ZM97.80 106.73L99.70 104.83L101.60 106.73L99.70 108.63ZM99.30 106.45L101.20 104.55L103.10 106.45L101.20 108.35ZM107.80 105.90L109.70 104.00L111.60 105.90L109.70 107.80ZM115.90 102.30L117.80 100.40L119.70 102.30L117.80 104.20ZM117.30 101.80L119.20 99.90L121.10 101.80L119.20 103.70ZM122.10 100.60L124.00 98.70L125.90 100.60L124.00 102.50ZM123.70 100.40L125.60 98.50L127.50 100.40L125.60 102.30ZM125.10 100.20L127.00 98.30L128.90 100.20L127.00 102.10ZM134.20 98.50L136.10 96.60L138.00 98.50L136.10 100.40ZM145.60 95.10L147.50 93.20L149.40 95.10L147.50 97.00ZM146.80 94.96L148.70 93.06L150.60 94.96L148.70 96.86ZM148.00 94.81L149.90 92.91L151.80 94.81L149.90 96.71ZM149.20 94.67L151.10 92.77L153.00 94.67L151.10 96.57ZM150.40 94.52L152.30 92.62L154.20 94.52L152.30 96.42ZM151.60 94.38L153.50 92.48L155.40 94.38L153.50 96.28ZM152.80 94.24L154.70 92.34L156.60 94.24L154.70 96.14ZM154.00 94.09L155.90 92.19L157.80 94.09L155.90 95.99ZM155.20 93.95L157.10 92.05L159.00 93.95L157.10 95.85ZM156.40 93.80L158.30 91.90L160.20 93.80L158.30 95.70ZM157.60 93.66L159.50 91.76L161.40 93.66L159.50 95.56ZM158.80 93.51L160.70 91.61L162.60 93.51L160.70 95.41ZM160.00 93.35L161.90 91.45L163.80 93.35L161.90 95.25ZM161.20 93.19L163.10 91.29L165.00 93.19L163.10 95.09ZM162.40 93.03L164.30 91.13L166.20 93.03L164.30 94.93ZM163.60 92.87L165.50 90.97L167.40 92.87L165.50 94.77ZM164.80 92.71L166.70 90.81L168.60 92.71L166.70 94.61ZM166.00 92.55L167.90 90.65L169.80 92.55L167.90 94.45ZM167.20 92.39L169.10 90.49L171.00 92.39L169.10 94.29ZM168.40 92.23L170.30 90.33L172.20 92.23L170.30 94.13ZM169.60 92.07L171.50 90.17L173.40 92.07L171.50 93.97ZM170.80 91.91L172.70 90.01L174.60 91.91L172.70 93.81ZM172.00 91.75L173.90 89.85L175.80 91.75L173.90 93.65ZM173.20 91.58L175.10 89.68L177.00 91.58L175.10 93.48ZM174.40 91.33L176.30 89.43L178.20 91.33L176.30 93.23ZM175.60 91.09L177.50 89.19L179.40 91.09L177.50 92.99ZM176.80 90.85L178.70 88.95L180.60 90.85L178.70 92.75ZM178.00 90.60L179.90 88.70L181.80 90.60L179.90 92.50ZM179.20 90.36L181.10 88.46L183.00 90.36L181.10 92.26ZM180.40 90.11L182.30 88.21L184.20 90.11L182.30 92.01ZM181.60 89.87L183.50 87.97L185.40 89.87L183.50 91.77ZM182.80 89.62L184.70 87.72L186.60 89.62L184.70 91.52ZM184.00 89.38L185.90 87.48L187.80 89.38L185.90 91.28ZM185.20 89.13L187.10 87.23L189.00 89.13L187.10 91.03ZM186.40 88.89L188.30 86.99L190.20 88.89L188.30 90.79ZM187.60 88.64L189.50 86.74L191.40 88.64L189.50 90.54ZM188.80 88.40L190.70 86.50L192.60 88.40L190.70 90.30ZM190.00 88.15L191.90 86.25L193.80 88.15L191.90 90.05ZM191.20 87.91L193.10 86.01L195.00 87.91L193.10 89.81ZM192.40 87.66L194.30 85.76L196.20 87.66L194.30 89.56ZM193.60 87.42L195.50 85.52L197.40 87.42L195.50 89.32ZM194.80 87.17L196.70 85.27L198.60 87.17L196.70 89.07ZM196.00 86.93L197.90 85.03L199.80 86.93L197.90 88.83ZM197.20 86.68L199.10 84.78L201.00 86.68L199.10 88.58Z" fill="none" stroke="#0000ff" stroke-width="1.08"/>
<path d="M83.82 87.90A1.38 1.55 0 1 0 86.58 87.90A1.38 1.55 0 1 0 83.82 87.90ZM84.72 87.90A1.38 1.55 0 1 0 87.48 87.90A1.38 1.55 0 1 0 84.72 87.90ZM85.62 87.90A1.38 1.55 0 1 0 88.38 87.90A1.38 1.55 0 1 0 85.62 87.90ZM86.52 87.90A1.38 1.55 0 1 0 89.28 87.90A1.38 1.55 0 1 0 86.52 87.90ZM87.42 87.90A1.38 1.55 0 1 0 90.18 87.90A1.38 1.55 0 1 0 87.42 87.90ZM88.32 87.90A1.38 1.55 0 1 0 91.08 87.90A1.38 1.55 0 1 0 88.32 87.90ZM89.22 87.90A1.38 1.55 0 1 0 91.98 87.90A1.38 1.55 0 1 0 89.22 87.90ZM90.12 87.90A1.38 1.55 0 1 0 92.88 87.90A1.38 1.55 0 1 0 90.12 87.90ZM91.02 87.90A1.38 1.55 0 1 0 93.78 87.90A1.38 1.55 0 1 0 91.02 87.90ZM91.92 87.90A1.38 1.55 0 1 0 94.68 87.90A1.38 1.55 0 1 0 91.92 87.90ZM92.82 87.90A1.38 1.55 0 1 0 95.58 87.90A1.38 1.55 0 1 0 92.82 87.90ZM93.72 87.90A1.38 1.55 0 1 0 96.48 87.90A1.38 1.55 0 1 0 93.72 87.90ZM94.62 87.90A1.38 1.55 0 1 0 97.38 87.90A1.38 1.55 0 1 0 94.62 87.90ZM95.52 87.90A1.38 1.55 0 1 0 98.28 87.90A1.38 1.55 0 1 0 95.52 87.90ZM96.42 87.90A1.38 1.55 0 1 0 99.18 87.90A1.38 1.55 0 1 0 96.42 87.90ZM97.32 87.90A1.38 1.55 0 1 0 100.08 87.90A1.38 1.55 0 1 0 97.32 87.90ZM98.22 87.90A1.38 1.55 0 1 0 100.98 87.90A1.38 1.55 0 1 0 98.22 87.90ZM99.12 87.90A1.38 1.55 0 1 0 101.88 87.90A1.38 1.55 0 1 0 99.12 87.90ZM100.02 87.90A1.38 1.55 0 1 0 102.78 87.90A1.38 1.55 0 1 0 100.02 87.90ZM100.92 87.90A1.38 1.55 0 1 0 103.68 87.90A1.38 1.55 0 1 0 100.92 87.90ZM101.82 87.90A1.38 1.55 0 1 0 104.58 87.90A1.38 1.55 0 1 0 101.82 87.90ZM102.72 87.90A1.38 1.55 0 1 0 105.48 87.90A1.38 1.55 0 1 0 102.72 87.90ZM103.62 87.90A1.38 1.55 0 1 0 106.38 87.90A1.38 1.55 0 1 0 103.62 87.90ZM104.52 87.90A1.38 1.55 0 1 0 107.28 87.90A1.38 1.55 0 1 0 104.52 87.90ZM105.42 87.90A1.38 1.55 0 1 0 108.18 87.90A1.38 1.55 0 1 0 105.42 87.90ZM106.32 87.90A1.38 1.55 0 1 0 109.08 87.90A1.38 1.55 0 1 0 106.32 87.90ZM107.22 87.90A1.38 1.55 0 1 0 109.98 87.90A1.38 1.55 0 1 0 107.22 87.90ZM108.12 87.90A1.38 1.55 0 1 0 110.88 87.90A1.38 1.55 0 1 0 108.12 87.90ZM109.02 87.90A1.38 1.55 0 1 0 111.78 87.90A1.38 1.55 0 1 0 109.02 87.90ZM109.92 87.90A1.38 1.55 0 1 0 112.68 87.90A1.38 1.55 0 1 0 109.92 87.90ZM110.82 87.90A1.38 1.55 0 1 0 113.58 87.90A1.38 1.55 0 1 0 110.82 87.90ZM111.72 87.90A1.38 1.55 0 1 0 114.48 87.90A1.38 1.55 0 1 0 111.72 87.90ZM112.62 87.90A1.38 1.55 0 1 0 115.38 87.90A1.38 1.55 0 1 0 112.62 87.90ZM113.52 87.90A1.38 1.55 0 1 0 116.28 87.90A1.38 1.55 0 1 0 113.52 87.90ZM114.42 87.90A1.38 1.55 0 1 0 117.18 87.90A1.38 1.55 0 1 0 114.42 87.90ZM115.32 87.90A1.38 1.55 0 1 0 118.08 87.90A1.38 1.55 0 1 0 115.32 87.90ZM116.22 87.90A1.38 1.55 0 1 0 118.98 87.90A1.38 1.55 0 1 0 116.22 87.90ZM117.12 87.90A1.38 1.55 0 1 0 119.88 87.90A1.38 1.55 0 1 0 117.12 87.90ZM118.02 87.90A1.38 1.55 0 1 0 120.78 87.90A1.38 1.55 0 1 0 118.02 87.90ZM118.92 87.90A1.38 1.55 0 1 0 121.68 87.90A1.38 1.55 0 1 0 118.92 87.90ZM119.82 87.90A1.38 1.55 0 1 0 122.58 87.90A1.38 1.55 0 1 0 119.82 87.90ZM120.72 87.90A1.38 1.55 0 1 0 123.48 87.90A1.38 1.55 0 1 0 120.72 87.90ZM121.62 87.90A1.38 1.55 0 1 0 124.38 87.90A1.38 1.55 0 1 0 121.62 87.90ZM122.52 87.90A1.38 1.55 0 1 0 125.28 87.90A1.38 1.55 0 1 0 122.52 87.90ZM123.42 87.90A1.38 1.55 0 1 0 126.18 87.90A1.38 1.55 0 1 0 123.42 87.90ZM124.32 87.90A1.38 1.55 0 1 0 127.08 87.90A1.38 1.55 0 1 0 124.32 87.90ZM125.22 87.90A1.38 1.55 0 1 0 127.98 87.90A1.38 1.55 0 1 0 125.22 87.90ZM126.12 87.90A1.38 1.55 0 1 0 128.88 87.90A1.38 1.55 0 1 0 126.12 87.90ZM127.02 87.90A1.38 1.55 0 1 0 129.78 87.90A1.38 1.55 0 1 0 127.02 87.90ZM127.92 87.90A1.38 1.55 0 1 0 130.68 87.90A1.38 1.55 0 1 0 127.92 87.90ZM128.82 87.90A1.38 1.55 0 1 0 131.58 87.90A1.38 1.55 0 1 0 128.82 87.90ZM129.72 87.90A1.38 1.55 0 1 0 132.48 87.90A1.38 1.55 0 1 0 129.72 87.90ZM130.62 87.90A1.38 1.55 0 1 0 133.38 87.90A1.38 1.55 0 1 0 130.62 87.90ZM131.52 87.90A1.38 1.55 0 1 0 134.28 87.90A1.38 1.55 0 1 0 131.52 87.90ZM132.42 87.90A1.38 1.55 0 1 0 135.18 87.90A1.38 1.55 0 1 0 132.42 87.90ZM133.32 87.90A1.38 1.55 0 1 0 136.08 87.90A1.38 1.55 0 1 0 133.32 87.90ZM134.22 87.90A1.38 1.55 0 1 0 136.98 87.90A1.38 1.55 0 1 0 134.22 87.90ZM135.12 87.90A1.38 1.55 0 1 0 137.88 87.90A1.38 1.55 0 1 0 135.12 87.90ZM136.02 87.90A1.38 1.55 0 1 0 138.78 87.90A1.38 1.55 0 1 0 136.02 87.90ZM136.92 87.90A1.38 1.55 0 1 0 139.68 87.90A1.38 1.55 0 1 0 136.92 87.90ZM137.82 87.90A1.38 1.55 0 1 0 140.58 87.90A1.38 1.55 0 1 0 137.82 87.90ZM138.72 87.90A1.38 1.55 0 1 0 141.48 87.90A1.38 1.55 0 1 0 138.72 87.90ZM139.62 87.90A1.38 1.55 0 1 0 142.38 87.90A1.38 1.55 0 1 0 139.62 87.90ZM140.52 87.90A1.38 1.55 0 1 0 143.28 87.90A1.38 1.55 0 1 0 140.52 87.90ZM141.42 87.90A1.38 1.55 0 1 0 144.18 87.90A1.38 1.55 0 1 0 141.42 87.90ZM142.32 87.90A1.38 1.55 0 1 0 145.08 87.90A1.38 1.55 0 1 0 142.32 87.90ZM143.22 87.90A1.38 1.55 0 1 0 145.98 87.90A1.38 1.55 0 1 0 143.22 87.90ZM144.12 87.90A1.38 1.55 0 1 0 146.88 87.90A1.38 1.55 0 1 0 144.12 87.90ZM145.02 87.90A1.38 1.55 0 1 0 147.78 87.90A1.38 1.55 0 1 0 145.02 87.90ZM145.92 87.90A1.38 1.55 0 1 0 148.68 87.90A1.38 1.55 0 1 0 145.92 87.90ZM146.82 87.90A1.38 1.55 0 1 0 149.58 87.90A1.38 1.55 0 1 0 146.82 87.90ZM147.72 87.90A1.38 1.55 0 1 0 150.48 87.90A1.38 1.55 0 1 0 147.72 87.90ZM148.62 87.90A1.38 1.55 0 1 0 151.38 87.90A1.38 1.55 0 1 0 148.62 87.90ZM149.52 87.90A1.38 1.55 0 1 0 152.28 87.90A1.38 1.55 0 1 0 149.52 87.90ZM150.42 87.90A1.38 1.55 0 1 0 153.18 87.90A1.38 1.55 0 1 0 150.42 87.90ZM151.32 87.90A1.38 1.55 0 1 0 154.08 87.90A1.38 1.55 0 1 0 151.32 87.90ZM152.22 87.90A1.38 1.55 0 1 0 154.98 87.90A1.38 1.55 0 1 0 152.22 87.90ZM153.12 87.90A1.38 1.55 0 1 0 155.88 87.90A1.38 1.55 0 1 0 153.12 87.90ZM154.02 87.90A1.38 1.55 0 1 0 156.78 87.90A1.38 1.55 0 1 0 154.02 87.90ZM154.92 87.90A1.38 1.55 0 1 0 157.68 87.90A1.38 1.55 0 1 0 154.92 87.90ZM155.82 87.90A1.38 1.55 0 1 0 158.58 87.90A1.38 1.55 0 1 0 155.82 87.90ZM156.72 87.90A1.38 1.55 0 1 0 159.48 87.90A1.38 1.55 0 1 0 156.72 87.90ZM157.62 87.90A1.38 1.55 0 1 0 160.38 87.90A1.38 1.55 0 1 0 157.62 87.90ZM158.52 87.90A1.38 1.55 0 1 0 161.28 87.90A1.38 1.55 0 1 0 158.52 87.90ZM159.42 87.90A1.38 1.55 0 1 0 162.18 87.90A1.38 1.55 0 1 0 159.42 87.90ZM160.32 87.90A1.38 1.55 0 1 0 163.08 87.90A1.38 1.55 0 1 0 160.32 87.90ZM161.22 87.90A1.38 1.55 0 1 0 163.98 87.90A1.38 1.55 0 1 0 161.22 87.90ZM162.12 87.90A1.38 1.55 0 1 0 164.88 87.90A1.38 1.55 0 1 0 162.12 87.90ZM163.02 87.90A1.38 1.55 0 1 0 165.78 87.90A1.38 1.55 0 1 0 163.02 87.90ZM163.92 87.90A1.38 1.55 0 1 0 166.68 87.90A1.38 1.55 0 1 0 163.92 87.90ZM164.82 87.90A1.38 1.55 0 1 0 167.58 87.90A1.38 1.55 0 1 0 164.82 87.90ZM165.72 87.90A1.38 1.55 0 1 0 168.48 87.90A1.38 1.55 0 1 0 165.72 87.90ZM166.62 87.90A1.38 1.55 0 1 0 169.38 87.90A1.38 1.55 0 1 0 166.62 87.90ZM167.52 87.90A1.38 1.55 0 1 0 170.28 87.90A1.38 1.55 0 1 0 167.52 87.90ZM168.42 87.90A1.38 1.55 0 1 0 171.18 87.90A1.38 1.55 0 1 0 168.42 87.90ZM169.32 87.90A1.38 1.55 0 1 0 172.08 87.90A1.38 1.55 0 1 0 169.32 87.90ZM170.22 87.90A1.38 1.55 0 1 0 172.98 87.90A1.38 1.55 0 1 0 170.22 87.90ZM171.12 87.90A1.38 1.55 0 1 0 173.88 87.90A1.38 1.55 0 1 0 171.12 87.90ZM172.02 87.90A1.38 1.55 0 1 0 174.78 87.90A1.38 1.55 0 1 0 172.02 87.90ZM172.92 87.90A1.38 1.55 0 1 0 175.68 87.90A1.38 1.55 0 1 0 172.92 87.90ZM173.82 87.90A1.38 1.55 0 1 0 176.58 87.90A1.38 1.55 0 1 0 173.82 87.90ZM174.72 87.90A1.38 1.55 0 1 0 177.48 87.90A1.38 1.55 0 1 0 174.72 87.90ZM175.62 87.90A1.38 1.55 0 1 0 178.38 87.90A1.38 1.55 0 1 0 175.62 87.90ZM176.52 87.90A1.38 1.55 0 1 0 179.28 87.90A1.38 1.55 0 1 0 176.52 87.90ZM177.42 87.90A1.38 1.55 0 1 0 180.18 87.90A1.38 1.55 0 1 0 177.42 87.90ZM178.32 87.90A1.38 1.55 0 1 0 181.08 87.90A1.38 1.55 0 1 0 178.32 87.90ZM179.22 87.90A1.38 1.55 0 1 0 181.98 87.90A1.38 1.55 0 1 0 179.22 87.90ZM180.12 87.90A1.38 1.55 0 1 0 182.88 87.90A1.38 1.55 0 1 0 180.12 87.90ZM181.02 87.90A1.38 1.55 0 1 0 183.78 87.90A1.38 1.55 0 1 0 181.02 87.90ZM181.92 87.90A1.38 1.55 0 1 0 184.68 87.90A1.38 1.55 0 1 0 181.92 87.90ZM182.82 87.90A1.38 1.55 0 1 0 185.58 87.90A1.38 1.55 0 1 0 182.82 87.90ZM183.72 87.90A1.38 1.55 0 1 0 186.48 87.90A1.38 1.55 0 1 0 183.72 87.90ZM184.62 87.90A1.38 1.55 0 1 0 187.38 87.90A1.38 1.55 0 1 0 184.62 87.90ZM185.52 87.90A1.38 1.55 0 1 0 188.28 87.90A1.38 1.55 0 1 0 185.52 87.90ZM186.42 87.90A1.38 1.55 0 1 0 189.18 87.90A1.38 1.55 0 1 0 186.42 87.90ZM187.32 87.90A1.38 1.55 0 1 0 190.08 87.90A1.38 1.55 0 1 0 187.32 87.90ZM188.22 87.90A1.38 1.55 0 1 0 190.98 87.90A1.38 1.55 0 1 0 188.22 87.90ZM191.92 88.00A1.38 1.55 0 1 0 194.68 88.00A1.38 1.55 0 1 0 191.92 88.00ZM195.11 88.00A1.38 1.55 0 1 0 197.87 88.00A1.38 1.55 0 1 0 195.11 88.00ZM198.30 88.00A1.38 1.55 0 1 0 201.06 88.00A1.38 1.55 0 1 0 198.30 88.00ZM201.49 87.89A1.38 1.55 0 1 0 204.25 87.89A1.38 1.55 0 1 0 201.49 87.89ZM204.68 87.78A1.38 1.55 0 1 0 207.44 87.78A1.38 1.55 0 1 0 204.68 87.78ZM207.87 87.66A1.38 1.55 0 1 0 210.63 87.66A1.38 1.55 0 1 0 207.87 87.66ZM211.06 87.54A1.38 1.55 0 1 0 213.82 87.54A1.38 1.55 0 1 0 211.06 87.54ZM214.25 87.42A1.38 1.55 0 1 0 217.01 87.42A1.38 1.55 0 1 0 214.25 87.42ZM217.44 87.31A1.38 1.55 0 1 0 220.20 87.31A1.38 1.55 0 1 0 217.44 87.31ZM220.63 87.19A1.38 1.55 0 1 0 223.39 87.19A1.38 1.55 0 1 0 220.63 87.19ZM223.82 87.07A1.38 1.55 0 1 0 226.58 87.07A1.38 1.55 0 1 0 223.82 87.07ZM227.01 86.95A1.38 1.55 0 1 0 229.77 86.95A1.38 1.55 0 1 0 227.01 86.95ZM230.20 86.84A1.38 1.55 0 1 0 232.96 86.84A1.38 1.55 0 1 0 230.20 86.84ZM233.39 86.72A1.38 1.55 0 1 0 236.15 86.72A1.38 1.55 0 1 0 233.39 86.72ZM236.58 86.60A1.38 1.55 0 1 0 239.34 86.60A1.38 1.55 0 1 0 236.58 86.60ZM239.77 86.38A1.38 1.55 0 1 0 242.53 86.38A1.38 1.55 0 1 0 239.77 86.38ZM242.96 86.16A1.38 1.55 0 1 0 245.72 86.16A1.38 1.55 0 1 0 242.96 86.16ZM246.15 85.93A1.38 1.55 0 1 0 248.91 85.93A1.38 1.55 0 1 0 246.15 85.93ZM249.34 85.71A1.38 1.55 0 1 0 252.10 85.71A1.38 1.55 0 1 0 249.34 85.71ZM252.53 85.49A1.38 1.55 0 1 0 255.29 85.49A1.38 1.55 0 1 0 252.53 85.49ZM255.72 85.26A1.38 1.55 0 1 0 258.48 85.26A1.38 1.55 0 1 0 255.72 85.26ZM258.91 84.95A1.38 1.55 0 1 0 261.67 84.95A1.38 1.55 0 1 0 258.91 84.95ZM262.10 84.60A1.38 1.55 0 1 0 264.86 84.60A1.38 1.55 0 1 0 262.10 84.60ZM265.29 84.25A1.38 1.55 0 1 0 268.05 84.25A1.38 1.55 0 1 0 265.29 84.25ZM268.48 83.90A1.38 1.55 0 1 0 271.24 83.90A1.38 1.55 0 1 0 268.48 83.90ZM271.67 83.54A1.38 1.55 0 1 0 274.43 83.54A1.38 1.55 0 1 0 271.67 83.54ZM274.86 83.19A1.38 1.55 0 1 0 277.62 83.19A1.38 1.55 0 1 0 274.86 83.19ZM278.05 82.70A1.38 1.55 0 1 0 280.81 82.70A1.38 1.55 0 1 0 278.05 82.70ZM281.24 82.04A1.38 1.55 0 1 0 284.00 82.04A1.38 1.55 0 1 0 281.24 82.04ZM284.43 81.37A1.38 1.55 0 1 0 287.19 81.37A1.38 1.55 0 1 0 284.43 81.37ZM287.62 80.71A1.38 1.55 0 1 0 290.38 80.71A1.38 1.55 0 1 0 287.62 80.71ZM290.81 80.22A1.38 1.55 0 1 0 293.57 80.22A1.38 1.55 0 1 0 290.81 80.22ZM294.00 79.80A1.38 1.55 0 1 0 296.76 79.80A1.38 1.55 0 1 0 294.00 79.80ZM297.19 79.39A1.38 1.55 0 1 0 299.95 79.39A1.38 1.55 0 1 0 297.19 79.39ZM300.38 79.20A1.38 1.55 0 1 0 303.14 79.20A1.38 1.55 0 1 0 300.38 79.20ZM303.57 79.19A1.38 1.55 0 1 0 306.33 79.19A1.38 1.55 0 1 0 303.57 79.19ZM306.76 79.16A1.38 1.55 0 1 0 309.52 79.16A1.38 1.55 0 1 0 306.76 79.16ZM309.95 79.17A1.38 1.55 0 1 0 312.71 79.17A1.38 1.55 0 1 0 309.95 79.17ZM313.14 78.81A1.38 1.55 0 1 0 315.90 78.81A1.38 1.55 0 1 0 313.14 78.81ZM316.33 78.82A1.38 1.55 0 1 0 319.09 78.82A1.38 1.55 0 1 0 316.33 78.82ZM319.52 79.03A1.38 1.55 0 1 0 322.28 79.03A1.38 1.55 0 1 0 319.52 79.03ZM322.71 78.96A1.38 1.55 0 1 0 325.47 78.96A1.38 1.55 0 1 0 322.71 78.96ZM325.90 79.46A1.38 1.55 0 1 0 328.66 79.46A1.38 1.55 0 1 0 325.90 79.46ZM329.09 78.85A1.38 1.55 0 1 0 331.85 78.85A1.38 1.55 0 1 0 329.09 78.85ZM332.28 78.73A1.38 1.55 0 1 0 335.04 78.73A1.38 1.55 0 1 0 332.28 78.73ZM335.47 79.56A1.38 1.55 0 1 0 338.23 79.56A1.38 1.55 0 1 0 335.47 79.56ZM338.66 79.17A1.38 1.55 0 1 0 341.42 79.17A1.38 1.55 0 1 0 338.66 79.17ZM341.85 78.82A1.38 1.55 0 1 0 344.61 78.82A1.38 1.55 0 1 0 341.85 78.82ZM345.04 79.18A1.38 1.55 0 1 0 347.80 79.18A1.38 1.55 0 1 0 345.04 79.18ZM348.23 78.71A1.38 1.55 0 1 0 350.99 78.71A1.38 1.55 0 1 0 348.23 78.71ZM351.42 79.15A1.38 1.55 0 1 0 354.18 79.15A1.38 1.55 0 1 0 351.42 79.15ZM354.61 79.55A1.38 1.55 0 1 0 357.37 79.55A1.38 1.55 0 1 0 354.61 79.55ZM357.80 79.45A1.38 1.55 0 1 0 360.56 79.45A1.38 1.55 0 1 0 357.80 79.45ZM360.99 79.29A1.38 1.55 0 1 0 363.75 79.29A1.38 1.55 0 1 0 360.99 79.29ZM364.18 78.90A1.38 1.55 0 1 0 366.94 78.90A1.38 1.55 0 1 0 364.18 78.90ZM367.37 78.99A1.38 1.55 0 1 0 370.13 78.99A1.38 1.55 0 1 0 367.37 78.99ZM370.56 78.80A1.38 1.55 0 1 0 373.32 78.80A1.38 1.55 0 1 0 370.56 78.80ZM373.75 79.34A1.38 1.55 0 1 0 376.51 79.34A1.38 1.55 0 1 0 373.75 79.34ZM376.94 79.12A1.38 1.55 0 1 0 379.70 79.12A1.38 1.55 0 1 0 376.94 79.12ZM380.13 79.34A1.38 1.55 0 1 0 382.89 79.34A1.38 1.55 0 1 0 380.13 79.34ZM383.32 78.93A1.38 1.55 0 1 0 386.08 78.93A1.38 1.55 0 1 0 383.32 78.93ZM386.51 78.83A1.38 1.55 0 1 0 389.27 78.83A1.38 1.55 0 1 0 386.51 78.83ZM389.70 79.36A1.38 1.55 0 1 0 392.46 79.36A1.38 1.55 0 1 0 389.70 79.36ZM392.89 79.51A1.38 1.55 0 1 0 395.65 79.51A1.38 1.55 0 1 0 392.89 79.51ZM396.08 79.39A1.38 1.55 0 1 0 398.84 79.39A1.38 1.55 0 1 0 396.08 79.39ZM399.27 79.34A1.38 1.55 0 1 0 402.03 79.34A1.38 1.55 0 1 0 399.27 79.34ZM402.46 79.35A1.38 1.55 0 1 0 405.22 79.35A1.38 1.55 0 1 0 402.46 79.35ZM405.65 79.27A1.38 1.55 0 1 0 408.41 79.27A1.38 1.55 0 1 0 405.65 79.27ZM408.84 78.81A1.38 1.55 0 1 0 411.60 78.81A1.38 1.55 0 1 0 408.84 78.81ZM412.03 79.06A1.38 1.55 0 1 0 414.79 79.06A1.38 1.55 0 1 0 412.03 79.06ZM415.22 78.91A1.38 1.55 0 1 0 417.98 78.91A1.38 1.55 0 1 0 415.22 78.91ZM418.41 78.61A1.38 1.55 0 1 0 421.17 78.61A1.38 1.55 0 1 0 418.41 78.61ZM421.60 78.61A1.38 1.55 0 1 0 424.36 78.61A1.38 1.55 0 1 0 421.60 78.61ZM424.79 78.83A1.38 1.55 0 1 0 427.55 78.83A1.38 1.55 0 1 0 424.79 78.83ZM427.98 78.81A1.38 1.55 0 1 0 430.74 78.81A1.38 1.55 0 1 0 427.98 78.81ZM431.17 79.19A1.38 1.55 0 1 0 433.93 79.19A1.38 1.55 0 1 0 431.17 79.19ZM434.36 79.43A1.38 1.55 0 1 0 437.12 79.43A1.38 1.55 0 1 0 434.36 79.43ZM437.55 78.96A1.38 1.55 0 1 0 440.31 78.96A1.38 1.55 0 1 0 437.55 78.96ZM440.74 79.40A1.38 1.55 0 1 0 443.50 79.40A1.38 1.55 0 1 0 440.74 79.40ZM443.93 79.44A1.38 1.55 0 1 0 446.69 79.44A1.38 1.55 0 1 0 443.93 79.44ZM84.42 273.30A1.38 1.55 0 1 0 87.18 273.30A1.38 1.55 0 1 0 84.42 273.30ZM86.32 273.24A1.38 1.55 0 1 0 89.08 273.24A1.38 1.55 0 1 0 86.32 273.24ZM88.22 273.18A1.38 1.55 0 1 0 90.98 273.18A1.38 1.55 0 1 0 88.22 273.18ZM90.12 273.13A1.38 1.55 0 1 0 92.88 273.13A1.38 1.55 0 1 0 90.12 273.13ZM92.02 273.07A1.38 1.55 0 1 0 94.78 273.07A1.38 1.55 0 1 0 92.02 273.07ZM93.92 273.01A1.38 1.55 0 1 0 96.68 273.01A1.38 1.55 0 1 0 93.92 273.01ZM95.82 272.95A1.38 1.55 0 1 0 98.58 272.95A1.38 1.55 0 1 0 95.82 272.95ZM97.72 272.90A1.38 1.55 0 1 0 100.48 272.90A1.38 1.55 0 1 0 97.72 272.90ZM99.62 272.84A1.38 1.55 0 1 0 102.38 272.84A1.38 1.55 0 1 0 99.62 272.84ZM101.52 272.45A1.38 1.55 0 1 0 104.28 272.45A1.38 1.55 0 1 0 101.52 272.45ZM103.42 271.77A1.38 1.55 0 1 0 106.18 271.77A1.38 1.55 0 1 0 103.42 271.77ZM105.32 271.70A1.38 1.55 0 1 0 108.08 271.70A1.38 1.55 0 1 0 105.32 271.70ZM107.22 271.63A1.38 1.55 0 1 0 109.98 271.63A1.38 1.55 0 1 0 107.22 271.63ZM109.12 271.56A1.38 1.55 0 1 0 111.88 271.56A1.38 1.55 0 1 0 109.12 271.56ZM111.02 271.26A1.38 1.55 0 1 0 113.78 271.26A1.38 1.55 0 1 0 111.02 271.26ZM112.92 270.29A1.38 1.55 0 1 0 115.68 270.29A1.38 1.55 0 1 0 112.92 270.29ZM114.82 270.20A1.38 1.55 0 1 0 117.58 270.20A1.38 1.55 0 1 0 114.82 270.20ZM116.72 270.12A1.38 1.55 0 1 0 119.48 270.12A1.38 1.55 0 1 0 116.72 270.12ZM118.62 270.04A1.38 1.55 0 1 0 121.38 270.04A1.38 1.55 0 1 0 118.62 270.04ZM120.52 269.95A1.38 1.55 0 1 0 123.28 269.95A1.38 1.55 0 1 0 120.52 269.95ZM125.42 269.60A1.38 1.55 0 1 0 128.18 269.60A1.38 1.55 0 1 0 125.42 269.60ZM129.42 265.70A1.38 1.55 0 1 0 132.18 265.70A1.38 1.55 0 1 0 129.42 265.70ZM135.12 267.20A1.38 1.55 0 1 0 137.88 267.20A1.38 1.55 0 1 0 135.12 267.20ZM138.32 265.70A1.38 1.55 0 1 0 141.08 265.70A1.38 1.55 0 1 0 138.32 265.70ZM140.52 265.50A1.38 1.55 0 1 0 143.28 265.50A1.38 1.55 0 1 0 140.52 265.50ZM142.02 265.27A1.38 1.55 0 1 0 144.78 265.27A1.38 1.55 0 1 0 142.02 265.27ZM143.52 265.03A1.38 1.55 0 1 0 146.28 265.03A1.38 1.55 0 1 0 143.52 265.03ZM145.02 264.80A1.38 1.55 0 1 0 147.78 264.80A1.38 1.55 0 1 0 145.02 264.80ZM146.52 264.57A1.38 1.55 0 1 0 149.28 264.57A1.38 1.55 0 1 0 146.52 264.57ZM148.02 264.33A1.38 1.55 0 1 0 150.78 264.33A1.38 1.55 0 1 0 148.02 264.33ZM149.52 264.10A1.38 1.55 0 1 0 152.28 264.10A1.38 1.55 0 1 0 149.52 264.10ZM151.02 263.86A1.38 1.55 0 1 0 153.78 263.86A1.38 1.55 0 1 0 151.02 263.86ZM152.52 263.63A1.38 1.55 0 1 0 155.28 263.63A1.38 1.55 0 1 0 152.52 263.63ZM154.02 263.18A1.38 1.55 0 1 0 156.78 263.18A1.38 1.55 0 1 0 154.02 263.18ZM155.52 262.70A1.38 1.55 0 1 0 158.28 262.70A1.38 1.55 0 1 0 155.52 262.70ZM157.02 262.21A1.38 1.55 0 1 0 159.78 262.21A1.38 1.55 0 1 0 157.02 262.21ZM158.52 261.73A1.38 1.55 0 1 0 161.28 261.73A1.38 1.55 0 1 0 158.52 261.73ZM160.02 261.24A1.38 1.55 0 1 0 162.78 261.24A1.38 1.55 0 1 0 160.02 261.24ZM161.52 260.76A1.38 1.55 0 1 0 164.28 260.76A1.38 1.55 0 1 0 161.52 260.76ZM163.02 260.27A1.38 1.55 0 1 0 165.78 260.27A1.38 1.55 0 1 0 163.02 260.27ZM164.52 259.79A1.38 1.55 0 1 0 167.28 259.79A1.38 1.55 0 1 0 164.52 259.79ZM166.02 259.25A1.38 1.55 0 1 0 168.78 259.25A1.38 1.55 0 1 0 166.02 259.25ZM167.52 258.61A1.38 1.55 0 1 0 170.28 258.61A1.38 1.55 0 1 0 167.52 258.61ZM169.02 257.98A1.38 1.55 0 1 0 171.78 257.98A1.38 1.55 0 1 0 169.02 257.98ZM170.52 257.35A1.38 1.55 0 1 0 173.28 257.35A1.38 1.55 0 1 0 170.52 257.35ZM172.02 256.72A1.38 1.55 0 1 0 174.78 256.72A1.38 1.55 0 1 0 172.02 256.72ZM173.52 256.09A1.38 1.55 0 1 0 176.28 256.09A1.38 1.55 0 1 0 173.52 256.09ZM175.02 255.45A1.38 1.55 0 1 0 177.78 255.45A1.38 1.55 0 1 0 175.02 255.45ZM176.52 254.60A1.38 1.55 0 1 0 179.28 254.60A1.38 1.55 0 1 0 176.52 254.60ZM178.02 253.59A1.38 1.55 0 1 0 180.78 253.59A1.38 1.55 0 1 0 178.02 253.59ZM179.52 252.58A1.38 1.55 0 1 0 182.28 252.58A1.38 1.55 0 1 0 179.52 252.58ZM181.02 251.58A1.38 1.55 0 1 0 183.78 251.58A1.38 1.55 0 1 0 181.02 251.58ZM182.52 250.57A1.38 1.55 0 1 0 185.28 250.57A1.38 1.55 0 1 0 182.52 250.57ZM184.02 249.38A1.38 1.55 0 1 0 186.78 249.38A1.38 1.55 0 1 0 184.02 249.38ZM185.52 248.03A1.38 1.55 0 1 0 188.28 248.03A1.38 1.55 0 1 0 185.52 248.03ZM187.02 246.67A1.38 1.55 0 1 0 189.78 246.67A1.38 1.55 0 1 0 187.02 246.67ZM188.52 245.32A1.38 1.55 0 1 0 191.28 245.32A1.38 1.55 0 1 0 188.52 245.32ZM192.02 241.90A1.38 1.55 0 1 0 194.78 241.90A1.38 1.55 0 1 0 192.02 241.90ZM195.22 239.20A1.38 1.55 0 1 0 197.98 239.20A1.38 1.55 0 1 0 195.22 239.20ZM198.52 236.60A1.38 1.55 0 1 0 201.28 236.60A1.38 1.55 0 1 0 198.52 236.60ZM201.62 233.30A1.38 1.55 0 1 0 204.38 233.30A1.38 1.55 0 1 0 201.62 233.30ZM204.92 229.50A1.38 1.55 0 1 0 207.68 229.50A1.38 1.55 0 1 0 204.92 229.50ZM208.22 225.70A1.38 1.55 0 1 0 210.98 225.70A1.38 1.55 0 1 0 208.22 225.70ZM211.52 221.30A1.38 1.55 0 1 0 214.28 221.30A1.38 1.55 0 1 0 211.52 221.30ZM214.82 216.20A1.38 1.55 0 1 0 217.58 216.20A1.38 1.55 0 1 0 214.82 216.20ZM217.92 208.60A1.38 1.55 0 1 0 220.68 208.60A1.38 1.55 0 1 0 217.92 208.60ZM221.22 203.00A1.38 1.55 0 1 0 223.98 203.00A1.38 1.55 0 1 0 221.22 203.00ZM224.32 197.10A1.38 1.55 0 1 0 227.08 197.10A1.38 1.55 0 1 0 224.32 197.10ZM227.32 190.80A1.38 1.55 0 1 0 230.08 190.80A1.38 1.55 0 1 0 227.32 190.80ZM230.62 183.90A1.38 1.55 0 1 0 233.38 183.90A1.38 1.55 0 1 0 230.62 183.90ZM234.52 174.70A1.38 1.55 0 1 0 237.28 174.70A1.38 1.55 0 1 0 234.52 174.70ZM237.02 170.40A1.38 1.55 0 1 0 239.78 170.40A1.38 1.55 0 1 0 237.02 170.40ZM240.32 164.00A1.38 1.55 0 1 0 243.08 164.00A1.38 1.55 0 1 0 240.32 164.00ZM243.42 158.20A1.38 1.55 0 1 0 246.18 158.20A1.38 1.55 0 1 0 243.42 158.20ZM246.62 152.20A1.38 1.55 0 1 0 249.38 152.20A1.38 1.55 0 1 0 246.62 152.20ZM249.62 146.90A1.38 1.55 0 1 0 252.38 146.90A1.38 1.55 0 1 0 249.62 146.90ZM252.92 142.10A1.38 1.55 0 1 0 255.68 142.10A1.38 1.55 0 1 0 252.92 142.10ZM255.92 137.00A1.38 1.55 0 1 0 258.68 137.00A1.38 1.55 0 1 0 255.92 137.00ZM259.22 132.40A1.38 1.55 0 1 0 261.98 132.40A1.38 1.55 0 1 0 259.22 132.40ZM262.82 126.10A1.38 1.55 0 1 0 265.58 126.10A1.38 1.55 0 1 0 262.82 126.10ZM265.92 123.50A1.38 1.55 0 1 0 268.68 123.50A1.38 1.55 0 1 0 265.92 123.50ZM269.22 120.20A1.38 1.55 0 1 0 271.98 120.20A1.38 1.55 0 1 0 269.22 120.20ZM272.52 116.40A1.38 1.55 0 1 0 275.28 116.40A1.38 1.55 0 1 0 272.52 116.40ZM275.02 112.00A1.38 1.55 0 1 0 277.78 112.00A1.38 1.55 0 1 0 275.02 112.00ZM278.32 109.50A1.38 1.55 0 1 0 281.08 109.50A1.38 1.55 0 1 0 278.32 109.50ZM281.42 106.40A1.38 1.55 0 1 0 284.18 106.40A1.38 1.55 0 1 0 281.42 106.40ZM285.22 102.40A1.38 1.55 0 1 0 287.98 102.40A1.38 1.55 0 1 0 285.22 102.40ZM288.32 100.10A1.38 1.55 0 1 0 291.08 100.10A1.38 1.55 0 1 0 288.32 100.10ZM291.62 96.80A1.38 1.55 0 1 0 294.38 96.80A1.38 1.55 0 1 0 291.62 96.80ZM294.72 94.70A1.38 1.55 0 1 0 297.48 94.70A1.38 1.55 0 1 0 294.72 94.70ZM298.02 92.40A1.38 1.55 0 1 0 300.78 92.40A1.38 1.55 0 1 0 298.02 92.40ZM301.02 89.90A1.38 1.55 0 1 0 303.78 89.90A1.38 1.55 0 1 0 301.02 89.90ZM304.32 87.30A1.38 1.55 0 1 0 307.08 87.30A1.38 1.55 0 1 0 304.32 87.30ZM307.62 85.30A1.38 1.55 0 1 0 310.38 85.30A1.38 1.55 0 1 0 307.62 85.30ZM310.72 83.20A1.38 1.55 0 1 0 313.48 83.20A1.38 1.55 0 1 0 310.72 83.20ZM314.52 81.91A1.38 1.55 0 1 0 317.28 81.91A1.38 1.55 0 1 0 314.52 81.91ZM317.82 80.08A1.38 1.55 0 1 0 320.58 80.08A1.38 1.55 0 1 0 317.82 80.08Z" fill="none" stroke="#ff0000" stroke-width="1.08"/>
<path d="M83.70 89.60H86.70V92.60H83.70ZM84.60 89.60H87.60V92.60H84.60ZM85.50 89.59H88.50V92.59H85.50ZM86.40 89.59H89.40V92.59H86.40ZM87.30 89.59H90.30V92.59H87.30ZM88.20 89.59H91.20V92.59H88.20ZM89.10 89.58H92.10V92.58H89.10ZM90.00 89.58H93.00V92.58H90.00ZM90.90 89.58H93.90V92.58H90.90ZM91.80 89.58H94.80V92.58H91.80ZM92.70 89.57H95.70V92.57H92.70ZM93.60 89.57H96.60V92.57H93.60ZM94.50 89.57H97.50V92.57H94.50ZM95.40 89.57H98.40V92.57H95.40ZM96.30 89.56H99.30V92.56H96.30ZM97.20 89.56H100.20V92.56H97.20ZM98.10 89.56H101.10V92.56H98.10ZM99.00 89.56H102.00V92.56H99.00ZM99.90 89.55H102.90V92.55H99.90ZM100.80 89.55H103.80V92.55H100.80ZM101.70 89.55H104.70V92.55H101.70ZM102.60 89.55H105.60V92.55H102.60ZM103.50 89.54H106.50V92.54H103.50ZM104.40 89.54H107.40V92.54H104.40ZM105.30 89.54H108.30V92.54H105.30ZM106.20 89.54H109.20V92.54H106.20ZM107.10 89.53H110.10V92.53H107.10ZM108.00 89.53H111.00V92.53H108.00ZM108.90 89.53H111.90V92.53H108.90ZM109.80 89.53H112.80V92.53H109.80ZM110.70 89.52H113.70V92.52H110.70ZM111.60 89.52H114.60V92.52H111.60ZM112.50 89.52H115.50V92.52H112.50ZM113.40 89.51H116.40V92.51H113.40ZM114.30 89.51H117.30V92.51H114.30ZM115.20 89.51H118.20V92.51H115.20ZM116.10 89.51H119.10V92.51H116.10ZM117.00 89.50H120.00V92.50H117.00ZM117.90 89.50H120.90V92.50H117.90ZM118.80 89.50H121.80V92.50H118.80ZM119.70 89.50H122.70V92.50H119.70ZM120.60 89.49H123.60V92.49H120.60ZM121.50 89.49H124.50V92.49H121.50ZM122.40 89.49H125.40V92.49H122.40ZM123.30 89.49H126.30V92.49H123.30ZM124.20 89.48H127.20V92.48H124.20ZM125.10 89.48H128.10V92.48H125.10ZM126.00 89.48H129.00V92.48H126.00ZM126.90 89.48H129.90V92.48H126.90ZM127.80 89.47H130.80V92.47H127.80ZM128.70 89.47H131.70V92.47H128.70ZM129.60 89.47H132.60V92.47H129.60ZM130.50 89.47H133.50V92.47H130.50ZM131.40 89.46H134.40V92.46H131.40ZM132.30 89.46H135.30V92.46H132.30ZM133.20 89.46H136.20V92.46H133.20ZM134.10 89.46H137.10V92.46H134.10ZM135.00 89.45H138.00V92.45H135.00ZM135.90 89.45H138.90V92.45H135.90ZM136.80 89.45H139.80V92.45H136.80ZM137.70 89.45H140.70V92.45H137.70ZM138.60 89.44H141.60V92.44H138.60ZM139.50 89.44H142.50V92.44H139.50ZM140.40 89.44H143.40V92.44H140.40ZM141.30 89.44H144.30V92.44H141.30ZM142.20 89.43H145.20V92.43H142.20ZM143.10 89.43H146.10V92.43H143.10ZM144.00 89.43H147.00V92.43H144.00ZM144.90 89.42H147.90V92.42H144.90ZM145.80 89.42H148.80V92.42H145.80ZM146.70 89.42H149.70V92.42H146.70ZM147.60 89.42H150.60V92.42H147.60ZM148.50 89.41H151.50V92.41H148.50ZM149.40 89.41H152.40V92.41H149.40ZM150.30 89.41H153.30V92.41H150.30ZM151.20 89.41H154.20V92.41H151.20ZM152.10 89.40H155.10V92.40H152.10ZM153.00 89.40H156.00V92.40H153.00ZM153.90 89.40H156.90V92.40H153.90ZM154.80 89.40H157.80V92.40H154.80ZM155.70 89.39H158.70V92.39H155.70ZM156.60 89.39H159.60V92.39H156.60ZM157.50 89.39H160.50V92.39H157.50ZM158.40 89.39H161.40V92.39H158.40ZM159.30 89.38H162.30V92.38H159.30ZM160.20 89.38H163.20V92.38H160.20ZM161.10 89.38H164.10V92.38H161.10ZM162.00 89.38H165.00V92.38H162.00ZM162.90 89.37H165.90V92.37H162.90ZM163.80 89.37H166.80V92.37H163.80ZM164.70 89.37H167.70V92.37H164.70ZM165.60 89.37H168.60V92.37H165.60ZM166.50 89.36H169.50V92.36H166.50ZM167.40 89.36H170.40V92.36H167.40ZM168.30 89.36H171.30V92.36H168.30ZM169.20 89.36H172.20V92.36H169.20ZM170.10 89.35H173.10V92.35H170.10ZM171.00 89.35H174.00V92.35H171.00ZM171.90 89.35H174.90V92.35H171.90ZM172.80 89.34H175.80V92.34H172.80ZM173.70 89.34H176.70V92.34H173.70ZM174.60 89.34H177.60V92.34H174.60ZM175.50 89.34H178.50V92.34H175.50ZM176.40 89.33H179.40V92.33H176.40ZM177.30 89.33H180.30V92.33H177.30ZM178.20 89.33H181.20V92.33H178.20ZM179.10 89.33H182.10V92.33H179.10ZM180.00 89.32H183.00V92.32H180.00ZM180.90 89.32H183.90V92.32H180.90ZM181.80 89.32H184.80V92.32H181.80ZM182.70 89.32H185.70V92.32H182.70ZM183.60 89.31H186.60V92.31H183.60ZM184.50 89.31H187.50V92.31H184.50ZM185.40 89.31H188.40V92.31H185.40ZM186.30 89.31H189.30V92.31H186.30ZM187.20 89.30H190.20V92.30H187.20ZM188.10 89.30H191.10V92.30H188.10ZM191.80 89.10H194.80V92.10H191.80ZM194.99 89.05H197.99V92.05H194.99ZM198.18 89.00H201.18V92.00H198.18ZM201.37 88.90H204.37V91.90H201.37ZM204.56 88.79H207.56V91.79H204.56ZM207.75 88.68H210.75V91.68H207.75ZM210.94 88.57H213.94V91.57H210.94ZM214.13 88.47H217.13V91.47H214.13ZM217.32 88.36H220.32V91.36H217.32ZM220.51 88.25H223.51V91.25H220.51ZM223.70 88.14H226.70V91.14H223.70ZM226.89 88.03H229.89V91.03H226.89ZM230.08 87.92H233.08V90.92H230.08ZM233.27 87.81H236.27V90.81H233.27ZM236.46 87.70H239.46V90.70H236.46ZM239.65 87.51H242.65V90.51H239.65ZM242.84 87.32H245.84V90.32H242.84ZM246.03 87.13H249.03V90.13H246.03ZM249.22 86.94H252.22V89.94H249.22ZM252.41 86.75H255.41V89.75H252.41ZM255.60 86.55H258.60V89.55H255.60ZM258.79 86.31H261.79V89.31H258.79ZM261.98 86.03H264.98V89.03H261.98ZM265.17 85.76H268.17V88.76H265.17ZM268.36 85.49H271.36V88.49H268.36ZM271.55 85.22H274.55V88.22H271.55ZM274.74 84.95H277.74V87.95H274.74ZM277.93 84.45H280.93V87.45H277.93ZM281.12 83.68H284.12V86.68H281.12ZM284.31 82.82H287.31V85.82H284.31ZM287.50 81.73H290.50V84.73H287.50ZM290.69 80.64H293.69V83.64H290.69ZM293.88 79.57H296.88V82.57H293.88ZM297.07 78.63H300.07V81.63H297.07ZM300.26 78.22H303.26V81.22H300.26ZM303.45 77.81H306.45V80.81H303.45ZM306.64 77.54H309.64V80.54H306.64ZM309.83 77.54H312.83V80.54H309.83ZM313.02 77.51H316.02V80.51H313.02ZM316.21 77.51H319.21V80.51H316.21ZM319.40 77.88H322.40V80.88H319.40ZM322.59 78.12H325.59V81.12H322.59ZM325.78 78.06H328.78V81.06H325.78ZM328.97 77.73H331.97V80.73H328.97ZM332.16 77.88H335.16V80.88H332.16ZM335.35 78.00H338.35V81.00H335.35ZM338.54 77.35H341.54V80.35H338.54ZM341.73 77.86H344.73V80.86H341.73ZM344.92 78.08H347.92V81.08H344.92ZM348.11 77.96H351.11V80.96H348.11ZM351.30 77.93H354.30V80.93H351.30ZM354.49 77.67H357.49V80.67H354.49ZM357.68 77.40H360.68V80.40H357.68ZM360.87 77.94H363.87V80.94H360.87ZM364.06 77.52H367.06V80.52H364.06ZM367.25 77.94H370.25V80.94H367.25ZM370.44 78.08H373.44V81.08H370.44ZM373.63 77.56H376.63V80.56H373.63ZM376.82 77.56H379.82V80.56H376.82ZM380.01 78.04H383.01V81.04H380.01ZM383.20 77.84H386.20V80.84H383.20ZM386.39 77.33H389.39V80.33H386.39ZM389.58 77.28H392.58V80.28H389.58ZM392.77 77.30H395.77V80.30H392.77ZM395.96 77.97H398.96V80.97H395.96ZM399.15 77.88H402.15V80.88H399.15ZM402.34 77.27H405.34V80.27H402.34ZM405.53 77.88H408.53V80.88H405.53ZM408.72 78.01H411.72V81.01H408.72ZM411.91 77.71H414.91V80.71H411.91ZM415.10 77.43H418.10V80.43H415.10ZM418.29 77.60H421.29V80.60H418.29ZM421.48 77.22H424.48V80.22H421.48ZM424.67 77.11H427.67V80.11H424.67ZM427.86 77.96H430.86V80.96H427.86ZM431.05 77.67H434.05V80.67H431.05ZM434.24 77.55H437.24V80.55H434.24ZM437.43 77.91H440.43V80.91H437.43ZM440.62 77.45H443.62V80.45H440.62ZM443.81 77.84H446.81V80.84H443.81ZM84.30 245.10H87.30V248.10H84.30ZM85.60 245.07H88.60V248.07H85.60ZM86.90 245.04H89.90V248.04H86.90ZM88.20 245.01H91.20V248.01H88.20ZM89.50 244.98H92.50V247.98H89.50ZM90.80 244.95H93.80V247.95H90.80ZM92.10 244.92H95.10V247.92H92.10ZM93.40 244.89H96.40V247.89H93.40ZM94.70 244.86H97.70V247.86H94.70ZM96.00 244.83H99.00V247.83H96.00ZM97.30 244.80H100.30V247.80H97.30ZM98.60 244.43H101.60V247.43H98.60ZM99.90 243.98H102.90V246.98H99.90ZM101.20 243.54H104.20V246.54H101.20ZM102.50 243.10H105.50V246.10H102.50ZM103.80 242.76H106.80V245.76H103.80ZM105.10 242.41H108.10V245.41H105.10ZM106.40 242.07H109.40V245.07H106.40ZM107.70 241.73H110.70V244.73H107.70ZM109.00 240.81H112.00V243.81H109.00ZM110.30 239.85H113.30V242.85H110.30ZM111.60 239.37H114.60V242.37H111.60ZM112.90 238.99H115.90V241.99H112.90ZM114.20 238.60H117.20V241.60H114.20ZM115.50 238.45H118.50V241.45H115.50ZM116.80 238.30H119.80V241.30H116.80ZM118.10 238.15H121.10V241.15H118.10ZM119.40 237.92H122.40V240.92H119.40ZM120.70 237.67H123.70V240.67H120.70ZM122.00 237.42H125.00V240.42H122.00ZM129.70 235.70H132.70V238.70H129.70ZM130.90 235.18H133.90V238.18H130.90ZM132.10 234.67H135.10V237.67H132.10ZM133.30 234.15H136.30V237.15H133.30ZM134.50 233.63H137.50V236.63H134.50ZM135.70 233.12H138.70V236.12H135.70ZM136.90 232.60H139.90V235.60H136.90ZM138.10 231.99H141.10V234.99H138.10ZM139.30 231.39H142.30V234.39H139.30ZM140.50 230.78H143.50V233.78H140.50ZM141.70 230.17H144.70V233.17H141.70ZM142.90 229.57H145.90V232.57H142.90ZM144.10 228.96H147.10V231.96H144.10ZM145.30 228.35H148.30V231.35H145.30ZM146.50 227.67H149.50V230.67H146.50ZM147.70 226.94H150.70V229.94H147.70ZM148.90 226.21H151.90V229.21H148.90ZM150.10 225.47H153.10V228.47H150.10ZM151.30 224.74H154.30V227.74H151.30ZM152.50 224.01H155.50V227.01H152.50ZM153.70 223.27H156.70V226.27H153.70ZM154.90 222.52H157.90V225.52H154.90ZM156.10 221.56H159.10V224.56H156.10ZM157.30 220.61H160.30V223.61H157.30ZM158.50 219.65H161.50V222.65H158.50ZM159.70 218.69H162.70V221.69H159.70ZM160.90 217.73H163.90V220.73H160.90ZM162.10 216.78H165.10V219.78H162.10ZM163.30 215.82H166.30V218.82H163.30ZM164.50 214.74H167.50V217.74H164.50ZM165.70 213.61H168.70V216.61H165.70ZM166.90 212.48H169.90V215.48H166.90ZM168.10 211.35H171.10V214.35H168.10ZM169.30 210.21H172.30V213.21H169.30ZM170.50 209.08H173.50V212.08H170.50ZM171.70 207.95H174.70V210.95H171.70ZM172.90 206.78H175.90V209.78H172.90ZM174.10 205.49H177.10V208.49H174.10ZM175.30 204.20H178.30V207.20H175.30ZM176.50 202.91H179.50V205.91H176.50ZM177.70 201.62H180.70V204.62H177.70ZM178.90 200.33H181.90V203.33H178.90ZM180.10 199.04H183.10V202.04H180.10ZM181.30 197.64H184.30V200.64H181.30ZM182.50 196.18H185.50V199.18H182.50ZM183.70 194.71H186.70V197.71H183.70ZM184.90 193.24H187.90V196.24H184.90ZM186.10 191.76H189.10V194.76H186.10ZM187.30 190.13H190.30V193.13H187.30ZM188.50 188.50H191.50V191.50H188.50ZM191.80 186.20H194.80V189.20H191.80ZM195.10 181.60H198.10V184.60H195.10ZM198.40 177.30H201.40V180.30H198.40ZM201.50 172.70H204.50V175.70H201.50ZM204.60 168.10H207.60V171.10H204.60ZM207.90 163.30H210.90V166.30H207.90ZM211.20 158.10H214.20V161.10H211.20ZM214.30 153.10H217.30V156.10H214.30ZM217.50 148.50H220.50V151.50H217.50ZM220.90 144.40H223.90V147.40H220.90ZM226.00 137.80H229.00V140.80H226.00ZM229.10 135.30H232.10V138.30H229.10ZM232.40 132.20H235.40V135.20H232.40ZM236.20 128.90H239.20V131.90H236.20ZM239.30 125.80H242.30V128.80H239.30ZM242.30 122.80H245.30V125.80H242.30ZM245.90 120.20H248.90V123.20H245.90ZM248.90 117.40H251.90V120.40H248.90ZM252.00 114.90H255.00V117.90H252.00ZM255.80 112.30H258.80V115.30H255.80ZM259.10 109.80H262.10V112.80H259.10ZM262.20 107.20H265.20V110.20H262.20ZM265.30 105.40H268.30V108.40H265.30ZM268.60 103.70H271.60V106.70H268.60ZM272.40 101.60H275.40V104.60H272.40ZM275.70 99.10H278.70V102.10H275.70ZM278.80 97.30H281.80V100.30H278.80ZM282.10 95.30H285.10V98.30H282.10ZM285.10 93.20H288.10V96.20H285.10ZM288.40 91.40H291.40V94.40H288.40ZM291.50 89.60H294.50V92.60H291.50ZM295.30 87.60H298.30V90.60H295.30ZM298.60 86.30H301.60V89.30H298.60ZM301.70 84.60H304.70V87.60H301.70ZM305.00 83.00H308.00V86.00H305.00ZM308.10 81.70H311.10V84.70H308.10ZM311.90 80.50H314.90V83.50H311.90ZM315.20 79.69H318.20V82.69H315.20ZM318.20 78.44H321.20V81.44H318.20Z" fill="none" stroke="#00ff00" stroke-width="1.08"/>
<path d="M85.30 83.62L86.72 86.82L83.88 86.82ZM87.80 83.62L89.22 86.82L86.38 86.82ZM90.30 83.62L91.72 86.82L88.88 86.82ZM92.80 83.62L94.22 86.82L91.38 86.82ZM95.30 83.62L96.72 86.82L93.88 86.82ZM97.80 83.62L99.22 86.82L96.38 86.82ZM103.10 83.62L104.52 86.82L101.68 86.82ZM110.80 83.62L112.22 86.82L109.38 86.82ZM116.60 83.62L118.02 86.82L115.18 86.82ZM120.20 83.62L121.62 86.82L118.78 86.82ZM126.60 83.62L128.02 86.82L125.18 86.82ZM129.40 83.62L130.82 86.82L127.98 86.82ZM140.10 83.62L141.52 86.82L138.68 86.82ZM152.00 83.72L153.42 86.92L150.58 86.92ZM155.19 83.69L156.61 86.89L153.77 86.89ZM158.38 83.66L159.80 86.86L156.96 86.86ZM161.57 83.63L162.99 86.83L160.15 86.83ZM164.76 83.61L166.18 86.81L163.34 86.81ZM167.95 83.58L169.37 86.78L166.53 86.78ZM171.14 83.55L172.56 86.75L169.72 86.75ZM174.33 83.52L175.75 86.72L172.91 86.72ZM177.52 83.49L178.94 86.69L176.10 86.69ZM180.71 83.46L182.13 86.66L179.29 86.66ZM183.90 83.44L185.32 86.64L182.48 86.64ZM187.09 83.41L188.51 86.61L185.67 86.61ZM190.28 83.38L191.70 86.58L188.86 86.58ZM193.47 83.35L194.89 86.55L192.05 86.55ZM196.66 83.32L198.08 86.52L195.24 86.52ZM200.00 83.12L201.42 86.32L198.58 86.32ZM203.19 82.95L204.61 86.15L201.77 86.15ZM206.38 82.78L207.80 85.98L204.96 85.98ZM209.57 82.61L210.99 85.81L208.15 85.81ZM212.76 82.44L214.18 85.64L211.34 85.64ZM215.95 82.30L217.37 85.50L214.53 85.50ZM219.14 82.22L220.56 85.42L217.72 85.42ZM222.33 82.14L223.75 85.34L220.91 85.34ZM225.52 82.07L226.94 85.27L224.10 85.27ZM228.71 81.99L230.13 85.19L227.29 85.19ZM231.90 81.91L233.32 85.11L230.48 85.11ZM235.09 81.84L236.51 85.04L233.67 85.04ZM238.28 81.76L239.70 84.96L236.86 84.96ZM241.47 81.66L242.89 84.86L240.05 84.86ZM244.66 81.53L246.08 84.73L243.24 84.73ZM247.85 81.41L249.27 84.61L246.43 84.61ZM251.04 81.28L252.46 84.48L249.62 84.48ZM254.23 81.15L255.65 84.35L252.81 84.35ZM257.42 81.02L258.84 84.22L256.00 84.22ZM260.61 80.88L262.03 84.08L259.19 84.08ZM263.80 80.67L265.22 83.87L262.38 83.87ZM266.99 80.45L268.41 83.65L265.57 83.65ZM270.18 80.24L271.60 83.44L268.76 83.44ZM273.37 80.03L274.79 83.23L271.95 83.23ZM276.56 79.82L277.98 83.02L275.14 83.02ZM279.75 79.52L281.17 82.72L278.33 82.72ZM282.94 79.14L284.36 82.34L281.52 82.34ZM286.13 78.77L287.55 81.97L284.71 81.97ZM289.32 78.40L290.74 81.60L287.90 81.60ZM292.51 78.10L293.93 81.30L291.09 81.30ZM295.70 77.82L297.12 81.02L294.28 81.02ZM300.50 77.62L301.92 80.82L299.08 80.82ZM302.60 77.62L304.02 80.82L301.18 80.82ZM304.70 77.62L306.12 80.82L303.28 80.82ZM306.80 77.39L308.22 80.59L305.38 80.59ZM308.90 77.43L310.32 80.63L307.48 80.63ZM311.00 77.38L312.42 80.58L309.58 80.58ZM313.10 77.69L314.52 80.89L311.68 80.89ZM315.20 77.39L316.62 80.59L313.78 80.59ZM317.30 77.54L318.72 80.74L315.88 80.74ZM319.40 77.28L320.82 80.48L317.98 80.48ZM321.50 77.97L322.92 81.17L320.08 81.17ZM323.60 77.47L325.02 80.67L322.18 80.67ZM325.70 77.57L327.12 80.77L324.28 80.77ZM327.80 77.68L329.22 80.88L326.38 80.88ZM329.90 77.96L331.32 81.16L328.48 81.16ZM332.00 77.53L333.42 80.73L330.58 80.73ZM334.10 77.97L335.52 81.17L332.68 81.17ZM336.20 77.60L337.62 80.80L334.78 80.80ZM338.30 77.62L339.72 80.82L336.88 80.82ZM340.40 77.61L341.82 80.81L338.98 80.81ZM342.50 77.16L343.92 80.36L341.08 80.36ZM344.60 77.54L346.02 80.74L343.18 80.74ZM346.70 77.30L348.12 80.50L345.28 80.50ZM348.80 77.14L350.22 80.34L347.38 80.34ZM350.90 77.85L352.32 81.05L349.48 81.05ZM353.00 77.29L354.42 80.49L351.58 80.49ZM355.10 77.56L356.52 80.76L353.68 80.76ZM357.20 77.78L358.62 80.98L355.78 80.98ZM359.30 77.63L360.72 80.83L357.88 80.83ZM361.40 77.42L362.82 80.62L359.98 80.62ZM363.50 77.59L364.92 80.79L362.08 80.79ZM365.60 77.63L367.02 80.83L364.18 80.83ZM367.70 77.83L369.12 81.03L366.28 81.03ZM369.80 77.22L371.22 80.42L368.38 80.42ZM371.90 77.63L373.32 80.83L370.48 80.83ZM374.00 77.34L375.42 80.54L372.58 80.54ZM376.10 77.37L377.52 80.57L374.68 80.57ZM378.20 77.81L379.62 81.01L376.78 81.01ZM380.30 77.57L381.72 80.77L378.88 80.77ZM382.40 77.62L383.82 80.82L380.98 80.82ZM384.50 77.80L385.92 81.00L383.08 81.00ZM386.60 77.93L388.02 81.13L385.18 81.13ZM388.70 77.51L390.12 80.71L387.28 80.71ZM390.80 77.66L392.22 80.86L389.38 80.86ZM392.90 77.56L394.32 80.76L391.48 80.76ZM395.00 77.57L396.42 80.77L393.58 80.77ZM397.10 77.73L398.52 80.93L395.68 80.93ZM399.20 77.51L400.62 80.71L397.78 80.71ZM401.30 77.58L402.72 80.78L399.88 80.78ZM403.40 77.53L404.82 80.73L401.98 80.73ZM405.50 77.95L406.92 81.15L404.08 81.15ZM407.60 77.73L409.02 80.93L406.18 80.93ZM409.70 77.88L411.12 81.08L408.28 81.08ZM411.80 77.94L413.22 81.14L410.38 81.14ZM413.90 77.33L415.32 80.53L412.48 80.53ZM416.00 77.59L417.42 80.79L414.58 80.79ZM418.10 77.94L419.52 81.14L416.68 81.14ZM420.20 77.84L421.62 81.04L418.78 81.04ZM422.30 77.21L423.72 80.41L420.88 80.41ZM424.40 77.20L425.82 80.40L422.98 80.40ZM426.50 77.48L427.92 80.68L425.08 80.68ZM428.60 77.15L430.02 80.35L427.18 80.35ZM430.70 77.30L432.12 80.50L429.28 80.50ZM432.80 77.15L434.22 80.35L431.38 80.35ZM434.90 77.68L436.32 80.88L433.48 80.88ZM437.00 77.78L438.42 80.98L435.58 80.98ZM439.10 77.88L440.52 81.08L437.68 81.08ZM441.20 77.21L442.62 80.41L439.78 80.41ZM443.30 77.72L444.72 80.92L441.88 80.92ZM445.40 77.67L446.82 80.87L443.98 80.87ZM447.50 77.20L448.92 80.40L446.08 80.40ZM85.70 245.72L87.12 248.92L84.28 248.92ZM88.30 245.72L89.72 248.92L86.88 248.92ZM90.80 245.72L92.22 248.92L89.38 248.92ZM93.40 245.62L94.82 248.82L91.98 248.82ZM95.90 245.52L97.32 248.72L94.48 248.72ZM99.10 245.42L100.52 248.62L97.68 248.62ZM103.20 245.12L104.62 248.32L101.78 248.32ZM110.60 244.02L112.02 247.22L109.18 247.22ZM116.90 242.92L118.32 246.12L115.48 246.12ZM120.10 242.92L121.52 246.12L118.68 246.12ZM126.50 242.62L127.92 245.82L125.08 245.82ZM129.40 242.62L130.82 245.82L127.98 245.82ZM139.90 240.82L141.32 244.02L138.48 244.02ZM151.90 236.92L153.32 240.12L150.48 240.12ZM155.10 235.92L156.52 239.12L153.68 239.12ZM158.30 235.02L159.72 238.22L156.88 238.22ZM161.50 234.02L162.92 237.22L160.08 237.22ZM164.70 233.12L166.12 236.32L163.28 236.32ZM167.80 232.12L169.22 235.32L166.38 235.32ZM171.00 231.02L172.42 234.22L169.58 234.22ZM174.20 230.02L175.62 233.22L172.78 233.22ZM177.40 228.92L178.82 232.12L175.98 232.12ZM180.60 227.82L182.02 231.02L179.18 231.02ZM183.80 226.72L185.22 229.92L182.38 229.92ZM187.00 225.02L188.42 228.22L185.58 228.22ZM190.20 223.22L191.62 226.42L188.78 226.42ZM193.80 220.42L195.22 223.62L192.38 223.62ZM197.10 218.42L198.52 221.62L195.68 221.62ZM203.50 213.32L204.92 216.52L202.08 216.52ZM207.30 210.72L208.72 213.92L205.88 213.92ZM211.10 208.22L212.52 211.42L209.68 211.42ZM215.00 205.62L216.42 208.82L213.58 208.82ZM220.10 200.02L221.52 203.22L218.68 203.22ZM223.90 196.72L225.32 199.92L222.48 199.92ZM227.20 193.72L228.62 196.92L225.78 196.92ZM234.10 187.32L235.52 190.52L232.68 190.52ZM237.90 184.02L239.32 187.22L236.48 187.22ZM241.70 180.12L243.12 183.32L240.28 183.32ZM246.00 175.12L247.42 178.32L244.58 178.32ZM250.10 170.02L251.52 173.22L248.68 173.22ZM254.50 162.32L255.92 165.52L253.08 165.52ZM256.40 158.12L257.82 161.32L254.98 161.32ZM259.60 151.32L261.02 154.52L258.18 154.52ZM262.40 144.02L263.82 147.22L260.98 147.22ZM265.70 137.12L267.12 140.32L264.28 140.32ZM267.50 129.42L268.92 132.62L266.08 132.62ZM270.80 119.32L272.22 122.52L269.38 122.52ZM273.90 112.12L275.32 115.32L272.48 115.32ZM276.40 106.52L277.82 109.72L274.98 109.72ZM279.50 100.12L280.92 103.32L278.08 103.32ZM282.80 93.82L284.22 97.02L281.38 97.02ZM285.40 90.02L286.82 93.22L283.98 93.22ZM289.20 84.92L290.62 88.12L287.78 88.12ZM292.20 81.52L293.62 84.72L290.78 84.72ZM295.50 79.82L296.92 83.02L294.08 83.02ZM299.40 78.52L300.82 81.72L297.98 81.72Z" fill="none" stroke="#9020ff" stroke-width="1.08"/>
<path d="M402.50 78.24H405.50V81.24H402.50ZM406.80 78.12H409.80V81.12H406.80ZM418.50 77.75H421.50V80.75H418.50ZM425.00 78.21H428.00V81.21H425.00ZM428.20 77.81H431.20V80.81H428.20ZM437.90 77.79H440.90V80.79H437.90ZM444.30 78.14H447.30V81.14H444.30Z" fill="none" stroke="#00ff00" stroke-width="1.08"/>
<path d="M87.10 82.38L88.52 79.18L85.68 79.18ZM91.20 82.38L92.62 79.18L89.78 79.18ZM96.00 82.38L97.42 79.18L94.58 79.18ZM101.70 82.38L103.12 79.18L100.28 79.18ZM105.60 82.38L107.02 79.18L104.18 79.18ZM110.70 82.38L112.12 79.18L109.28 79.18ZM114.50 82.38L115.92 79.18L113.08 79.18ZM117.50 82.38L118.92 79.18L116.08 79.18ZM120.50 82.38L121.92 79.18L119.08 79.18ZM123.50 82.38L124.92 79.18L122.08 79.18ZM126.50 82.38L127.92 79.18L125.08 79.18ZM129.50 82.38L130.92 79.18L128.08 79.18ZM132.50 82.38L133.92 79.18L131.08 79.18ZM135.50 82.38L136.92 79.18L134.08 79.18ZM138.50 82.38L139.92 79.18L137.08 79.18ZM141.50 82.38L142.92 79.18L140.08 79.18ZM144.50 82.38L145.92 79.18L143.08 79.18ZM147.50 82.38L148.92 79.18L146.08 79.18ZM150.50 82.38L151.92 79.18L149.08 79.18ZM153.50 82.38L154.92 79.18L152.08 79.18ZM156.50 82.38L157.92 79.18L155.08 79.18ZM159.50 82.38L160.92 79.18L158.08 79.18ZM162.00 82.38L163.42 79.18L160.58 79.18ZM164.20 82.39L165.62 79.19L162.78 79.19ZM166.40 82.39L167.82 79.19L164.98 79.19ZM168.60 82.40L170.02 79.20L167.18 79.20ZM170.80 82.41L172.22 79.21L169.38 79.21ZM173.00 82.41L174.42 79.21L171.58 79.21ZM175.20 82.42L176.62 79.22L173.78 79.22ZM177.40 82.42L178.82 79.22L175.98 79.22ZM179.60 82.43L181.02 79.23L178.18 79.23ZM181.80 82.44L183.22 79.24L180.38 79.24ZM184.00 82.44L185.42 79.24L182.58 79.24ZM186.20 82.45L187.62 79.25L184.78 79.25ZM188.40 82.46L189.82 79.26L186.98 79.26ZM190.60 82.46L192.02 79.26L189.18 79.26ZM192.80 82.47L194.22 79.27L191.38 79.27ZM195.00 82.47L196.42 79.27L193.58 79.27ZM200.00 81.88L201.42 78.68L198.58 78.68ZM203.19 81.87L204.61 78.67L201.77 78.67ZM206.38 81.86L207.80 78.66L204.96 78.66ZM209.57 81.84L210.99 78.64L208.15 78.64ZM212.76 81.83L214.18 78.63L211.34 78.63ZM215.95 81.82L217.37 78.62L214.53 78.62ZM219.14 81.81L220.56 78.61L217.72 78.61ZM222.33 81.79L223.75 78.59L220.91 78.59ZM225.52 81.78L226.94 78.58L224.10 78.58ZM228.71 81.77L230.13 78.57L227.29 78.57ZM231.90 81.76L233.32 78.56L230.48 78.56ZM235.09 81.75L236.51 78.55L233.67 78.55ZM238.28 81.73L239.70 78.53L236.86 78.53ZM241.47 81.72L242.89 78.52L240.05 78.52ZM244.66 81.71L246.08 78.51L243.24 78.51ZM247.85 81.70L249.27 78.50L246.43 78.50ZM251.04 81.68L252.46 78.48L249.62 78.48ZM254.23 81.67L255.65 78.47L252.81 78.47ZM257.42 81.66L258.84 78.46L256.00 78.46ZM260.61 81.65L262.03 78.45L259.19 78.45ZM263.80 81.63L265.22 78.43L262.38 78.43ZM266.99 81.62L268.41 78.42L265.57 78.42ZM270.18 81.61L271.60 78.41L268.76 78.41ZM273.37 81.60L274.79 78.40L271.95 78.40ZM276.56 81.59L277.98 78.39L275.14 78.39ZM279.75 81.56L281.17 78.36L278.33 78.36ZM282.94 81.51L284.36 78.31L281.52 78.31ZM286.13 81.46L287.55 78.26L284.71 78.26ZM289.32 81.42L290.74 78.22L287.90 78.22ZM294.50 81.28L295.92 78.08L293.08 78.08ZM296.90 81.26L298.32 78.06L295.48 78.06ZM299.30 81.23L300.72 78.03L297.88 78.03ZM301.70 81.21L303.12 78.01L300.28 78.01ZM304.10 81.19L305.52 77.99L302.68 77.99ZM306.50 81.46L307.92 78.26L305.08 78.26ZM308.90 80.84L310.32 77.64L307.48 77.64ZM311.30 81.06L312.72 77.86L309.88 77.86ZM313.70 81.11L315.12 77.91L312.28 77.91ZM316.10 80.93L317.52 77.73L314.68 77.73ZM318.50 80.78L319.92 77.58L317.08 77.58ZM320.90 80.87L322.32 77.67L319.48 77.67ZM323.30 81.21L324.72 78.01L321.88 78.01ZM325.70 80.55L327.12 77.35L324.28 77.35ZM330.00 81.03L331.42 77.83L328.58 77.83ZM334.40 80.92L335.82 77.72L332.98 77.72ZM338.80 80.53L340.22 77.33L337.38 77.33ZM343.20 80.80L344.62 77.60L341.78 77.60ZM347.60 81.06L349.02 77.86L346.18 77.86ZM352.00 80.95L353.42 77.75L350.58 77.75ZM356.40 80.54L357.82 77.34L354.98 77.34ZM360.80 81.36L362.22 78.16L359.38 78.16ZM365.20 81.17L366.62 77.97L363.78 77.97ZM369.60 81.33L371.02 78.13L368.18 78.13ZM374.00 80.54L375.42 77.34L372.58 77.34ZM378.40 80.68L379.82 77.48L376.98 77.48ZM382.80 80.47L384.22 77.27L381.38 77.27ZM85.40 93.08L86.82 89.88L83.98 89.88ZM87.00 93.02L88.42 89.82L85.58 89.82ZM88.60 92.95L90.02 89.75L87.18 89.75ZM90.20 92.89L91.62 89.69L88.78 89.69ZM91.80 92.83L93.22 89.63L90.38 89.63ZM93.40 92.76L94.82 89.56L91.98 89.56ZM95.00 92.70L96.42 89.50L93.58 89.50ZM96.60 92.64L98.02 89.44L95.18 89.44ZM98.20 92.54L99.62 89.34L96.78 89.34ZM99.80 92.22L101.22 89.02L98.38 89.02ZM101.40 91.90L102.82 88.70L99.98 88.70ZM103.00 91.58L104.42 88.38L101.58 88.38ZM104.60 91.26L106.02 88.06L103.18 88.06ZM106.20 90.94L107.62 87.74L104.78 87.74ZM107.80 90.62L109.22 87.42L106.38 87.42ZM109.40 90.38L110.82 87.18L107.98 87.18ZM111.00 90.16L112.42 86.96L109.58 86.96ZM112.60 89.94L114.02 86.74L111.18 86.74ZM114.20 89.71L115.62 86.51L112.78 86.51ZM115.80 89.49L117.22 86.29L114.38 86.29ZM117.40 89.26L118.82 86.06L115.98 86.06ZM119.00 89.06L120.42 85.86L117.58 85.86ZM120.60 88.87L122.02 85.67L119.18 85.67ZM122.20 88.68L123.62 85.48L120.78 85.48ZM123.80 88.48L125.22 85.28L122.38 85.28ZM125.40 88.29L126.82 85.09L123.98 85.09ZM127.00 88.10L128.42 84.90L125.58 84.90ZM128.60 87.93L130.02 84.73L127.18 84.73ZM130.20 87.78L131.62 84.58L128.78 84.58ZM131.80 87.64L133.22 84.44L130.38 84.44ZM133.40 87.49L134.82 84.29L131.98 84.29ZM135.00 87.35L136.42 84.15L133.58 84.15ZM136.60 87.21L138.02 84.01L135.18 84.01ZM138.20 87.07L139.62 83.87L136.78 83.87ZM139.80 86.98L141.22 83.78L138.38 83.78ZM141.40 86.88L142.82 83.68L139.98 83.68ZM143.00 86.79L144.42 83.59L141.58 83.59ZM144.60 86.70L146.02 83.50L143.18 83.50ZM146.20 86.61L147.62 83.41L144.78 83.41ZM147.80 86.51L149.22 83.31L146.38 83.31ZM149.40 86.42L150.82 83.22L147.98 83.22ZM151.00 86.33L152.42 83.13L149.58 83.13ZM152.60 86.23L154.02 83.03L151.18 83.03ZM154.20 86.14L155.62 82.94L152.78 82.94ZM155.80 86.05L157.22 82.85L154.38 82.85ZM160.00 85.68L161.42 82.48L158.58 82.48ZM163.19 85.38L164.61 82.18L161.77 82.18ZM166.38 85.08L167.80 81.88L164.96 81.88ZM169.57 84.79L170.99 81.59L168.15 81.59ZM172.76 84.49L174.18 81.29L171.34 81.29ZM175.95 84.22L177.37 81.02L174.53 81.02ZM179.14 84.03L180.56 80.83L177.72 80.83ZM182.33 83.84L183.75 80.64L180.91 80.64ZM185.52 83.65L186.94 80.45L184.10 80.45ZM188.71 83.46L190.13 80.26L187.29 80.26ZM191.90 83.27L193.32 80.07L190.48 80.07Z" fill="none" stroke="#ff7f00" stroke-width="1.08"/>
</g>
<g id="legend"><path d="M272.53 199.37L278.27 206.03M272.53 206.03L278.27 199.37" fill="none" stroke="#00ffff" stroke-width="1.15"/><path d="M272.28 222.20L275.60 218.88L278.93 222.20L275.60 225.52Z" fill="none" stroke="#0000ff" stroke-width="1.15"/><path d="M272.70 239.40H278.10V244.80H272.70Z" fill="none" stroke="#00ff00" stroke-width="1.15"/><path d="M275.30 264.62L277.86 258.86L272.74 258.86Z" fill="none" stroke="#ff7f00" stroke-width="1.15"/><path d="M366.00 198.17L366.00 204.63M363.19 199.78L368.81 203.02M363.19 203.02L368.81 199.78" fill="none" stroke="#8b8b00" stroke-width="0.9"/><path d="M363.28 222.20A2.72 3.05 0 1 0 368.72 222.20A2.72 3.05 0 1 0 363.28 222.20Z" fill="none" stroke="#ff0000" stroke-width="1.15"/><path d="M366.00 238.88L368.56 244.64L363.44 244.64Z" fill="none" stroke="#9020ff" stroke-width="1.15"/><path d="M362.80 260.40L369.20 260.40M366.00 257.20L366.00 263.60" fill="none" stroke="#000000" stroke-width="1.0"/></g>
<g id="text"><text x="62.4" y="320.7" font-family="Liberation Sans" font-size="14" fill="#000" text-anchor="middle" stroke="#fff" stroke-width="0"  >0</text><text x="126.3" y="320.7" font-family="Liberation Sans" font-size="14" fill="#000" text-anchor="middle" stroke="#fff" stroke-width="0"  >5</text><text x="190.7" y="320.7" font-family="Liberation Sans" font-size="14" fill="#000" text-anchor="middle" stroke="#fff" stroke-width="0"  >10</text><text x="254.6" y="320.7" font-family="Liberation Sans" font-size="14" fill="#000" text-anchor="middle" stroke="#fff" stroke-width="0"  >15</text><text x="318.5" y="320.7" font-family="Liberation Sans" font-size="14" fill="#000" text-anchor="middle" stroke="#fff" stroke-width="0"  >20</text><text x="382.4" y="320.7" font-family="Liberation Sans" font-size="14" fill="#000" text-anchor="middle" stroke="#fff" stroke-width="0"  >25</text><text x="445.2" y="320.7" font-family="Liberation Sans" font-size="14" fill="#000" text-anchor="middle" stroke="#fff" stroke-width="0"  >30</text><text x="59.1" y="39.6" font-family="Liberation Sans" font-size="14" fill="#000" text-anchor="end" stroke="#fff" stroke-width="0"  >2</text><text x="59.1" y="84.4" font-family="Liberation Sans" font-size="14" fill="#000" text-anchor="end" stroke="#fff" stroke-width="0"  >0</text><text x="59.1" y="129.1" font-family="Liberation Sans" font-size="14" fill="#000" text-anchor="end" stroke="#fff" stroke-width="0"  >2</text><text x="59.1" y="173.9" font-family="Liberation Sans" font-size="14" fill="#000" text-anchor="end" stroke="#fff" stroke-width="0"  >4</text><text x="59.1" y="218.7" font-family="Liberation Sans" font-size="14" fill="#000" text-anchor="end" stroke="#fff" stroke-width="0"  >6</text><text x="59.1" y="263.4" font-family="Liberation Sans" font-size="14" fill="#000" text-anchor="end" stroke="#fff" stroke-width="0"  >8</text><path d="M43.1 123.93H48.9M43.1 168.70H48.9M43.1 213.47H48.9M43.1 258.23H48.9" stroke="#000" stroke-width="1.1" fill="none"/><text x="233.6" y="337.3" font-family="Liberation Sans" font-size="13" fill="#000" text-anchor="start" stroke="#fff" stroke-width="0" font-style="italic" >T</text><text x="249.8" y="337.6" font-family="Liberation Mono" font-size="14" fill="#000" text-anchor="start" stroke="#fff" stroke-width="0"  >(K)</text><g transform="translate(30.9,213) rotate(-90)"><text transform="translate(2.2,-1.8) scale(1.18,1)" x="0" y="0" font-family="Liberation Serif" font-size="14.1" font-style="italic" font-weight="bold">&#967;</text><text x="19.5" y="0" font-family="Liberation Mono" font-size="14">(emu/mol)</text></g><text x="271.2" y="176.3" font-family="Liberation Sans" font-size="16.5" fill="#000" text-anchor="start" stroke="#fff" stroke-width="0"  >Sr</text><text x="293.2" y="176.3" font-family="Liberation Sans" font-size="16.5" fill="#000" text-anchor="start" stroke="#fff" stroke-width="0"  >(</text><text x="300.2" y="176.3" font-family="Liberation Sans" font-size="16.5" fill="#000" text-anchor="start" stroke="#fff" stroke-width="0"  >Fe</text><text x="319.8" y="181.4" font-family="Liberation Sans" font-size="13.5" fill="#000" text-anchor="start" stroke="#fff" stroke-width="0"  >2</text><path d="M328.3 177.6H332.9" stroke="#000" stroke-width="1.1"/><text x="333.6" y="181.4" font-family="Liberation Sans" font-size="13.5" fill="#000" text-anchor="start" stroke="#fff" stroke-width="0" font-style="italic" textLength="7.4" lengthAdjust="spacingAndGlyphs">x</text><text x="341.6" y="176.3" font-family="Liberation Sans" font-size="16.5" fill="#000" text-anchor="start" stroke="#fff" stroke-width="0"  >Ru</text><text x="363.2" y="181.4" font-family="Liberation Sans" font-size="13.5" fill="#000" text-anchor="start" stroke="#fff" stroke-width="0" font-style="italic" textLength="7.4" lengthAdjust="spacingAndGlyphs">x</text><text x="371.4" y="176.3" font-family="Liberation Sans" font-size="16.5" fill="#000" text-anchor="start" stroke="#fff" stroke-width="0"  >)</text><text x="379.8" y="176.3" font-family="Liberation Sans" font-size="16.5" fill="#000" text-anchor="start" stroke="#fff" stroke-width="0"  >As</text><text x="399.2" y="181.9" font-family="Liberation Sans" font-size="13.5" fill="#000" text-anchor="start" stroke="#fff" stroke-width="0"  >2</text><text x="289.0" y="206.6" font-family="Liberation Sans" font-size="13.5" fill="#00ffff" text-anchor="start" stroke="#fff" stroke-width="0" font-style="italic" textLength="7.6" lengthAdjust="spacingAndGlyphs">x</text><text x="299.4" y="206.6" font-family="Liberation Sans" font-size="13.5" fill="#00ffff" text-anchor="start" stroke="#fff" stroke-width="0"  >=0.3</text><text x="289.0" y="226.3" font-family="Liberation Sans" font-size="13.5" fill="#0000ff" text-anchor="start" stroke="#fff" stroke-width="0" font-style="italic" textLength="7.6" lengthAdjust="spacingAndGlyphs">x</text><text x="299.4" y="226.3" font-family="Liberation Sans" font-size="13.5" fill="#0000ff" text-anchor="start" stroke="#fff" stroke-width="0"  >=0.5</text><text x="289.0" y="245.7" font-family="Liberation Sans" font-size="13.5" fill="#00ff00" text-anchor="start" stroke="#fff" stroke-width="0" font-style="italic" textLength="7.6" lengthAdjust="spacingAndGlyphs">x</text><text x="299.4" y="245.7" font-family="Liberation Sans" font-size="13.5" fill="#00ff00" text-anchor="start" stroke="#fff" stroke-width="0"  >=0.7</text><text x="289.0" y="264.8" font-family="Liberation Sans" font-size="13.5" fill="#ff7f00" text-anchor="start" stroke="#fff" stroke-width="0" font-style="italic" textLength="7.6" lengthAdjust="spacingAndGlyphs">x</text><text x="299.4" y="264.8" font-family="Liberation Sans" font-size="13.5" fill="#ff7f00" text-anchor="start" stroke="#fff" stroke-width="0"  >=1.0</text><text x="380.0" y="206.6" font-family="Liberation Sans" font-size="13.5" fill="#8b8b00" text-anchor="start" stroke="#fff" stroke-width="0" font-style="italic" textLength="7.6" lengthAdjust="spacingAndGlyphs">x</text><text x="390.4" y="206.6" font-family="Liberation Sans" font-size="13.5" fill="#8b8b00" text-anchor="start" stroke="#fff" stroke-width="0"  >=0.4</text><text x="380.0" y="226.3" font-family="Liberation Sans" font-size="13.5" fill="#ff0000" text-anchor="start" stroke="#fff" stroke-width="0" font-style="italic" textLength="7.6" lengthAdjust="spacingAndGlyphs">x</text><text x="390.4" y="226.3" font-family="Liberation Sans" font-size="13.5" fill="#ff0000" text-anchor="start" stroke="#fff" stroke-width="0"  >=0.6</text><text x="380.0" y="245.7" font-family="Liberation Sans" font-size="13.5" fill="#9020ff" text-anchor="start" stroke="#fff" stroke-width="0" font-style="italic" textLength="7.6" lengthAdjust="spacingAndGlyphs">x</text><text x="390.4" y="245.7" font-family="Liberation Sans" font-size="13.5" fill="#9020ff" text-anchor="start" stroke="#fff" stroke-width="0"  >=0.8</text><text x="380.0" y="264.8" font-family="Liberation Sans" font-size="13.5" fill="#000000" text-anchor="start" stroke="#fff" stroke-width="0" font-style="italic" textLength="7.6" lengthAdjust="spacingAndGlyphs">x</text><text x="390.4" y="264.8" font-family="Liberation Sans" font-size="13.5" fill="#000000" text-anchor="start" stroke="#fff" stroke-width="0"  >=2.0</text></g>
</svg></body></html>
